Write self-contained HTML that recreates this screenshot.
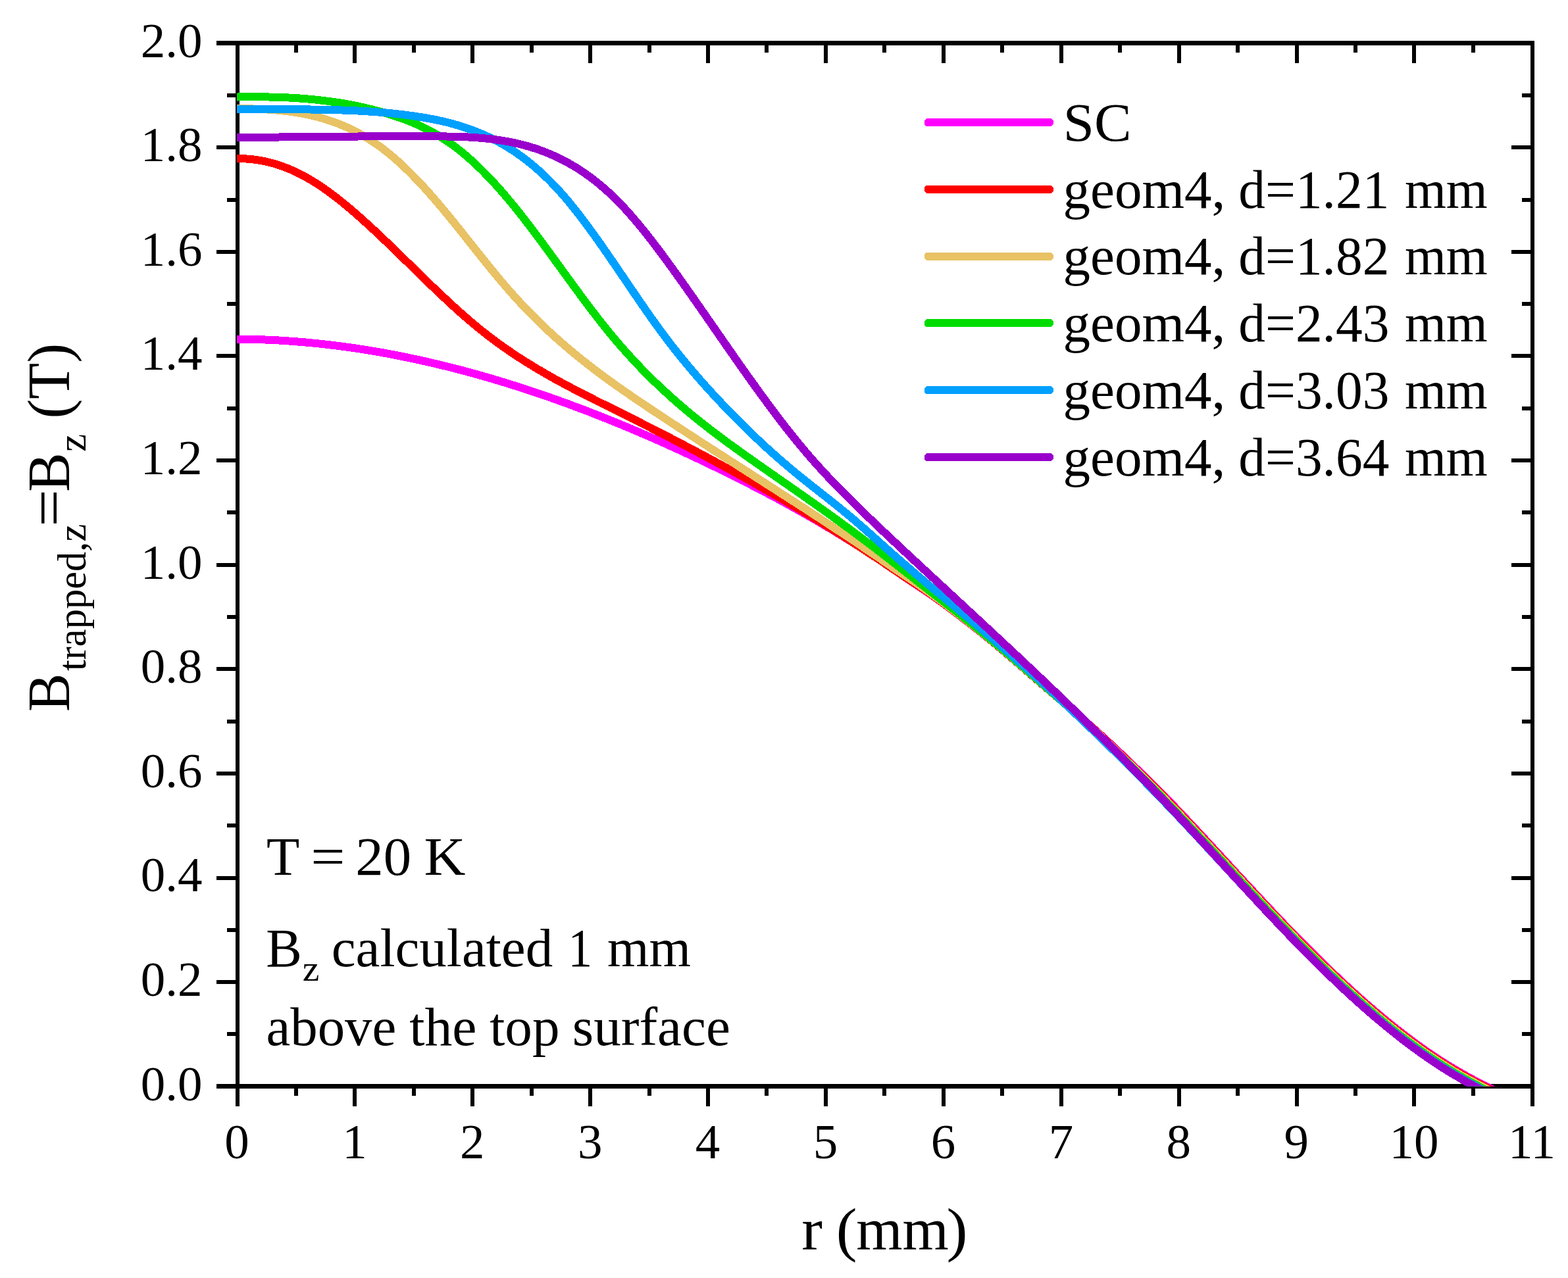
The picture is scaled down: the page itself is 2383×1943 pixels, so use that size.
<!DOCTYPE html>
<html lang="en"><head><meta charset="utf-8"><title>Trapped field profile</title>
<style>html,body{margin:0;padding:0;background:#fff;overflow:hidden;}svg{display:block;}text{font-family:"Liberation Serif","Times New Roman",serif;fill:#000;white-space:pre;}.tk{font-size:75px;}.lg{font-size:83.33px;}.an{font-size:83.33px;}.sb{font-size:55.6px;}.ti{font-size:91.67px;}.ts{font-size:61.1px;}</style></head><body>
<svg width="2383" height="1943" viewBox="0 0 2383 1943">
<rect width="2383" height="1943" fill="#fff"/>
<g fill="#000" shape-rendering="crispEdges">
<rect x="358.00" y="62.00" width="6.00" height="1620.00"/>
<rect x="2326.00" y="62.00" width="6.00" height="1620.00"/>
<rect x="329.00" y="62.00" width="2003.00" height="7.00"/>
<rect x="329.00" y="1648.00" width="2003.00" height="7.00"/>
<rect x="447.00" y="1655.00" width="6.00" height="11.00"/>
<rect x="447.00" y="69.00" width="6.00" height="11.00"/>
<rect x="536.00" y="1655.00" width="6.00" height="27.00"/>
<rect x="536.00" y="69.00" width="6.00" height="27.00"/>
<rect x="626.00" y="1655.00" width="6.00" height="11.00"/>
<rect x="626.00" y="69.00" width="6.00" height="11.00"/>
<rect x="715.00" y="1655.00" width="6.00" height="27.00"/>
<rect x="715.00" y="69.00" width="6.00" height="27.00"/>
<rect x="805.00" y="1655.00" width="6.00" height="11.00"/>
<rect x="805.00" y="69.00" width="6.00" height="11.00"/>
<rect x="894.00" y="1655.00" width="6.00" height="27.00"/>
<rect x="894.00" y="69.00" width="6.00" height="27.00"/>
<rect x="984.00" y="1655.00" width="6.00" height="11.00"/>
<rect x="984.00" y="69.00" width="6.00" height="11.00"/>
<rect x="1073.00" y="1655.00" width="6.00" height="27.00"/>
<rect x="1073.00" y="69.00" width="6.00" height="27.00"/>
<rect x="1162.00" y="1655.00" width="6.00" height="11.00"/>
<rect x="1162.00" y="69.00" width="6.00" height="11.00"/>
<rect x="1252.00" y="1655.00" width="6.00" height="27.00"/>
<rect x="1252.00" y="69.00" width="6.00" height="27.00"/>
<rect x="1341.00" y="1655.00" width="6.00" height="11.00"/>
<rect x="1341.00" y="69.00" width="6.00" height="11.00"/>
<rect x="1431.00" y="1655.00" width="6.00" height="27.00"/>
<rect x="1431.00" y="69.00" width="6.00" height="27.00"/>
<rect x="1520.00" y="1655.00" width="6.00" height="11.00"/>
<rect x="1520.00" y="69.00" width="6.00" height="11.00"/>
<rect x="1610.00" y="1655.00" width="6.00" height="27.00"/>
<rect x="1610.00" y="69.00" width="6.00" height="27.00"/>
<rect x="1699.00" y="1655.00" width="6.00" height="11.00"/>
<rect x="1699.00" y="69.00" width="6.00" height="11.00"/>
<rect x="1789.00" y="1655.00" width="6.00" height="27.00"/>
<rect x="1789.00" y="69.00" width="6.00" height="27.00"/>
<rect x="1878.00" y="1655.00" width="6.00" height="11.00"/>
<rect x="1878.00" y="69.00" width="6.00" height="11.00"/>
<rect x="1968.00" y="1655.00" width="6.00" height="27.00"/>
<rect x="1968.00" y="69.00" width="6.00" height="27.00"/>
<rect x="2057.00" y="1655.00" width="6.00" height="11.00"/>
<rect x="2057.00" y="69.00" width="6.00" height="11.00"/>
<rect x="2146.00" y="1655.00" width="6.00" height="27.00"/>
<rect x="2146.00" y="69.00" width="6.00" height="27.00"/>
<rect x="2236.00" y="1655.00" width="6.00" height="11.00"/>
<rect x="2236.00" y="69.00" width="6.00" height="11.00"/>
<rect x="345.00" y="1569.00" width="13.00" height="6.00"/>
<rect x="2313.00" y="1569.00" width="13.00" height="6.00"/>
<rect x="329.00" y="1490.00" width="29.00" height="6.00"/>
<rect x="2297.00" y="1490.00" width="29.00" height="6.00"/>
<rect x="345.00" y="1411.00" width="13.00" height="6.00"/>
<rect x="2313.00" y="1411.00" width="13.00" height="6.00"/>
<rect x="329.00" y="1332.00" width="29.00" height="6.00"/>
<rect x="2297.00" y="1332.00" width="29.00" height="6.00"/>
<rect x="345.00" y="1252.00" width="13.00" height="6.00"/>
<rect x="2313.00" y="1252.00" width="13.00" height="6.00"/>
<rect x="329.00" y="1173.00" width="29.00" height="6.00"/>
<rect x="2297.00" y="1173.00" width="29.00" height="6.00"/>
<rect x="345.00" y="1094.00" width="13.00" height="6.00"/>
<rect x="2313.00" y="1094.00" width="13.00" height="6.00"/>
<rect x="329.00" y="1014.00" width="29.00" height="6.00"/>
<rect x="2297.00" y="1014.00" width="29.00" height="6.00"/>
<rect x="345.00" y="935.00" width="13.00" height="6.00"/>
<rect x="2313.00" y="935.00" width="13.00" height="6.00"/>
<rect x="329.00" y="856.00" width="29.00" height="6.00"/>
<rect x="2297.00" y="856.00" width="29.00" height="6.00"/>
<rect x="345.00" y="776.00" width="13.00" height="6.00"/>
<rect x="2313.00" y="776.00" width="13.00" height="6.00"/>
<rect x="329.00" y="697.00" width="29.00" height="6.00"/>
<rect x="2297.00" y="697.00" width="29.00" height="6.00"/>
<rect x="345.00" y="618.00" width="13.00" height="6.00"/>
<rect x="2313.00" y="618.00" width="13.00" height="6.00"/>
<rect x="329.00" y="538.00" width="29.00" height="6.00"/>
<rect x="2297.00" y="538.00" width="29.00" height="6.00"/>
<rect x="345.00" y="459.00" width="13.00" height="6.00"/>
<rect x="2313.00" y="459.00" width="13.00" height="6.00"/>
<rect x="329.00" y="380.00" width="29.00" height="6.00"/>
<rect x="2297.00" y="380.00" width="29.00" height="6.00"/>
<rect x="345.00" y="301.00" width="13.00" height="6.00"/>
<rect x="2313.00" y="301.00" width="13.00" height="6.00"/>
<rect x="329.00" y="221.00" width="29.00" height="6.00"/>
<rect x="2297.00" y="221.00" width="29.00" height="6.00"/>
<rect x="345.00" y="142.00" width="13.00" height="6.00"/>
<rect x="2313.00" y="142.00" width="13.00" height="6.00"/>
</g>
<text class="tk" x="360.0" y="1760.6" text-anchor="middle">0</text>
<text class="tk" x="538.9" y="1760.6" text-anchor="middle">1</text>
<text class="tk" x="717.8" y="1760.6" text-anchor="middle">2</text>
<text class="tk" x="896.7" y="1760.6" text-anchor="middle">3</text>
<text class="tk" x="1075.6" y="1760.6" text-anchor="middle">4</text>
<text class="tk" x="1254.5" y="1760.6" text-anchor="middle">5</text>
<text class="tk" x="1433.5" y="1760.6" text-anchor="middle">6</text>
<text class="tk" x="1612.4" y="1760.6" text-anchor="middle">7</text>
<text class="tk" x="1791.3" y="1760.6" text-anchor="middle">8</text>
<text class="tk" x="1970.2" y="1760.6" text-anchor="middle">9</text>
<text class="tk" x="2149.1" y="1760.6" text-anchor="middle">10</text>
<text class="tk" x="2328.0" y="1760.6" text-anchor="middle">11</text>
<text class="tk" x="307.6" y="1672.5" text-anchor="end">0.0</text>
<text class="tk" x="307.6" y="1513.9" text-anchor="end">0.2</text>
<text class="tk" x="307.6" y="1355.3" text-anchor="end">0.4</text>
<text class="tk" x="307.6" y="1196.7" text-anchor="end">0.6</text>
<text class="tk" x="307.6" y="1038.1" text-anchor="end">0.8</text>
<text class="tk" x="307.6" y="879.5" text-anchor="end">1.0</text>
<text class="tk" x="307.6" y="720.9" text-anchor="end">1.2</text>
<text class="tk" x="307.6" y="562.3" text-anchor="end">1.4</text>
<text class="tk" x="307.6" y="403.7" text-anchor="end">1.6</text>
<text class="tk" x="307.6" y="245.1" text-anchor="end">1.8</text>
<text class="tk" x="307.6" y="86.5" text-anchor="end">2.0</text>
<defs><clipPath id="plot"><rect x="360" y="65.5" width="1969" height="1586"/></clipPath></defs>
<g clip-path="url(#plot)" fill="none" stroke-width="12.0" stroke-linejoin="round" stroke-linecap="butt" shape-rendering="crispEdges">
<path d="M358.0,515.6 L361.0,515.6 L364.0,515.6 L367.0,515.6 L370.0,515.7 L373.0,515.7 L376.0,515.7 L379.0,515.8 L382.0,515.9 L385.0,515.9 L388.0,516.0 L391.0,516.1 L394.0,516.2 L397.0,516.3 L400.0,516.4 L403.0,516.5 L406.0,516.6 L409.0,516.8 L412.0,516.9 L415.0,517.0 L418.0,517.2 L421.0,517.4 L424.0,517.5 L427.0,517.7 L430.0,517.9 L433.0,518.1 L436.0,518.3 L439.0,518.5 L442.0,518.7 L445.0,518.9 L448.0,519.1 L451.0,519.4 L454.0,519.6 L457.0,519.8 L460.0,520.1 L463.0,520.4 L466.0,520.6 L469.0,520.9 L472.0,521.2 L475.0,521.5 L478.0,521.8 L481.0,522.1 L484.0,522.4 L487.0,522.7 L490.0,523.0 L493.0,523.4 L496.0,523.7 L499.0,524.0 L502.0,524.4 L505.0,524.8 L508.0,525.1 L511.0,525.5 L514.0,525.9 L517.0,526.3 L520.0,526.7 L523.0,527.1 L526.0,527.5 L529.0,527.9 L532.0,528.3 L535.0,528.7 L538.0,529.2 L541.0,529.6 L544.0,530.1 L547.0,530.5 L550.0,531.0 L553.0,531.5 L556.0,531.9 L559.0,532.4 L562.0,532.9 L565.0,533.4 L568.0,533.9 L571.0,534.4 L574.0,535.0 L577.0,535.5 L580.0,536.0 L583.0,536.5 L586.0,537.1 L589.0,537.6 L592.0,538.2 L595.0,538.8 L598.0,539.3 L601.0,539.9 L604.0,540.5 L607.0,541.1 L610.0,541.7 L613.0,542.3 L616.0,542.9 L619.0,543.5 L622.0,544.1 L625.0,544.8 L628.0,545.4 L631.0,546.0 L634.0,546.7 L637.0,547.3 L640.0,548.0 L643.0,548.7 L646.0,549.3 L649.0,550.0 L652.0,550.7 L655.0,551.4 L658.0,552.1 L661.0,552.8 L664.0,553.5 L667.0,554.2 L670.0,555.0 L673.0,555.7 L676.0,556.4 L679.0,557.2 L682.0,557.9 L685.0,558.7 L688.0,559.4 L691.0,560.2 L694.0,561.0 L697.0,561.8 L700.0,562.5 L703.0,563.3 L706.0,564.1 L709.0,564.9 L712.0,565.7 L715.0,566.6 L718.0,567.4 L721.0,568.2 L724.0,569.0 L727.0,569.9 L730.0,570.7 L733.0,571.6 L736.0,572.4 L739.0,573.3 L742.0,574.2 L745.0,575.0 L748.0,575.9 L751.0,576.8 L754.0,577.7 L757.0,578.6 L760.0,579.5 L763.0,580.4 L766.0,581.3 L769.0,582.3 L772.0,583.2 L775.0,584.1 L778.0,585.1 L781.0,586.0 L784.0,587.0 L787.0,587.9 L790.0,588.9 L793.0,589.8 L796.0,590.8 L799.0,591.8 L802.0,592.8 L805.0,593.8 L808.0,594.8 L811.0,595.8 L814.0,596.8 L817.0,597.8 L820.0,598.8 L823.0,599.8 L826.0,600.9 L829.0,601.9 L832.0,602.9 L835.0,604.0 L838.0,605.0 L841.0,606.1 L844.0,607.2 L847.0,608.2 L850.0,609.3 L853.0,610.4 L856.0,611.5 L859.0,612.6 L862.0,613.6 L865.0,614.7 L868.0,615.9 L871.0,617.0 L874.0,618.1 L877.0,619.2 L880.0,620.3 L883.0,621.5 L886.0,622.6 L889.0,623.7 L892.0,624.9 L895.0,626.0 L898.0,627.2 L901.0,628.4 L904.0,629.5 L907.0,630.7 L910.0,631.9 L913.0,633.1 L916.0,634.3 L919.0,635.4 L922.0,636.6 L925.0,637.9 L928.0,639.1 L931.0,640.3 L934.0,641.5 L937.0,642.7 L940.0,643.9 L943.0,645.2 L946.0,646.4 L949.0,647.7 L952.0,648.9 L955.0,650.2 L958.0,651.4 L961.0,652.7 L964.0,654.0 L967.0,655.2 L970.0,656.5 L973.0,657.8 L976.0,659.1 L979.0,660.4 L982.0,661.7 L985.0,663.0 L988.0,664.3 L991.0,665.6 L994.0,666.9 L997.0,668.2 L1000.0,669.6 L1003.0,670.9 L1006.0,672.2 L1009.0,673.6 L1012.0,674.9 L1015.0,676.3 L1018.0,677.6 L1021.0,679.0 L1024.0,680.3 L1027.0,681.7 L1030.0,683.1 L1033.0,684.5 L1036.0,685.8 L1039.0,687.2 L1042.0,688.6 L1045.0,690.0 L1048.0,691.4 L1051.0,692.8 L1054.0,694.2 L1057.0,695.6 L1060.0,697.1 L1063.0,698.5 L1066.0,699.9 L1069.0,701.3 L1072.0,702.8 L1075.0,704.2 L1078.0,705.7 L1081.0,707.1 L1084.0,708.6 L1087.0,710.0 L1090.0,711.5 L1093.0,713.0 L1096.0,714.4 L1099.0,715.9 L1102.0,717.4 L1105.0,718.9 L1108.0,720.3 L1111.0,721.8 L1114.0,723.3 L1117.0,724.8 L1120.0,726.3 L1123.0,727.9 L1126.0,729.4 L1129.0,730.9 L1132.0,732.4 L1135.0,733.9 L1138.0,735.5 L1141.0,737.0 L1144.0,738.6 L1147.0,740.1 L1150.0,741.7 L1153.0,743.2 L1156.0,744.8 L1159.0,746.4 L1162.0,747.9 L1165.0,749.5 L1168.0,751.1 L1171.0,752.7 L1174.0,754.3 L1177.0,755.9 L1180.0,757.5 L1183.0,759.1 L1186.0,760.8 L1189.0,762.4 L1192.0,764.0 L1195.0,765.7 L1198.0,767.3 L1201.0,769.0 L1204.0,770.6 L1207.0,772.3 L1210.0,774.0 L1213.0,775.6 L1216.0,777.3 L1219.0,779.0 L1222.0,780.7 L1225.0,782.4 L1228.0,784.1 L1231.0,785.8 L1234.0,787.6 L1237.0,789.3 L1240.0,791.0 L1243.0,792.8 L1246.0,794.5 L1249.0,796.3 L1252.0,798.1 L1255.0,799.9 L1258.0,801.6 L1261.0,803.4 L1264.0,805.2 L1267.0,807.0 L1270.0,808.8 L1273.0,810.7 L1276.0,812.5 L1279.0,814.3 L1282.0,816.2 L1285.0,818.0 L1288.0,819.9 L1291.0,821.8 L1294.0,823.6 L1297.0,825.5 L1300.0,827.4 L1303.0,829.3 L1306.0,831.2 L1309.0,833.1 L1312.0,835.1 L1315.0,837.0 L1318.0,839.0 L1321.0,840.9 L1324.0,842.9 L1327.0,844.8 L1330.0,846.8 L1333.0,848.8 L1336.0,850.8 L1339.0,852.8 L1342.0,854.8 L1345.0,856.8 L1348.0,858.9 L1351.0,860.9 L1354.0,863.0 L1357.0,865.0 L1360.0,867.1 L1363.0,869.2 L1366.0,871.2 L1369.0,873.3 L1372.0,875.3 L1375.0,877.3 L1378.0,879.4 L1381.0,881.4 L1384.0,883.3 L1387.0,885.3 L1390.0,887.3 L1393.0,889.3 L1396.0,891.3 L1399.0,893.3 L1402.0,895.3 L1405.0,897.3 L1408.0,899.4 L1411.0,901.4 L1414.0,903.5 L1417.0,905.6 L1420.0,907.7 L1423.0,909.8 L1426.0,912.0 L1429.0,914.1 L1432.0,916.3 L1435.0,918.5 L1438.0,920.8 L1441.0,923.0 L1444.0,925.2 L1447.0,927.5 L1450.0,929.7 L1453.0,932.0 L1456.0,934.3 L1459.0,936.6 L1462.0,938.9 L1465.0,941.2 L1468.0,943.5 L1471.0,945.8 L1474.0,948.2 L1477.0,950.5 L1480.0,952.9 L1483.0,955.2 L1486.0,957.6 L1489.0,960.0 L1492.0,962.4 L1495.0,964.8 L1498.0,967.3 L1501.0,969.7 L1504.0,972.2 L1507.0,974.6 L1510.0,977.1 L1513.0,979.6 L1516.0,982.1 L1519.0,984.6 L1522.0,987.2 L1525.0,989.7 L1528.0,992.3 L1531.0,994.8 L1534.0,997.4 L1537.0,999.9 L1540.0,1002.5 L1543.0,1005.1 L1546.0,1007.7 L1549.0,1010.3 L1552.0,1012.9 L1555.0,1015.5 L1558.0,1018.1 L1561.0,1020.7 L1564.0,1023.3 L1567.0,1025.9 L1570.0,1028.5 L1573.0,1031.1 L1576.0,1033.7 L1579.0,1036.3 L1582.0,1038.9 L1585.0,1041.5 L1588.0,1044.1 L1591.0,1046.6 L1594.0,1049.2 L1597.0,1051.8 L1600.0,1054.4 L1603.0,1056.9 L1606.0,1059.5 L1609.0,1062.0 L1612.0,1064.5 L1615.0,1067.0 L1618.0,1069.6 L1621.0,1072.1 L1624.0,1074.6 L1627.0,1077.1 L1630.0,1079.6 L1633.0,1082.2 L1636.0,1084.7 L1639.0,1087.3 L1642.0,1089.9 L1645.0,1092.5 L1648.0,1095.1 L1651.0,1097.8 L1654.0,1100.4 L1657.0,1103.1 L1660.0,1105.8 L1663.0,1108.5 L1666.0,1111.2 L1669.0,1113.9 L1672.0,1116.6 L1675.0,1119.3 L1678.0,1122.1 L1681.0,1124.8 L1684.0,1127.6 L1687.0,1130.4 L1690.0,1133.2 L1693.0,1136.0 L1696.0,1138.8 L1699.0,1141.7 L1702.0,1144.5 L1705.0,1147.3 L1708.0,1150.2 L1711.0,1153.1 L1714.0,1155.9 L1717.0,1158.8 L1720.0,1161.7 L1723.0,1164.6 L1726.0,1167.5 L1729.0,1170.4 L1732.0,1173.3 L1735.0,1176.2 L1738.0,1179.1 L1741.0,1182.1 L1744.0,1185.0 L1747.0,1188.0 L1750.0,1191.0 L1753.0,1193.9 L1756.0,1196.9 L1759.0,1199.9 L1762.0,1202.9 L1765.0,1206.0 L1768.0,1209.0 L1771.0,1212.0 L1774.0,1215.1 L1777.0,1218.2 L1780.0,1221.3 L1783.0,1224.4 L1786.0,1227.5 L1789.0,1230.6 L1792.0,1233.7 L1795.0,1236.9 L1798.0,1240.1 L1801.0,1243.3 L1804.0,1246.5 L1807.0,1249.7 L1810.0,1252.9 L1813.0,1256.1 L1816.0,1259.3 L1819.0,1262.5 L1822.0,1265.7 L1825.0,1269.0 L1828.0,1272.2 L1831.0,1275.4 L1834.0,1278.7 L1837.0,1281.9 L1840.0,1285.2 L1843.0,1288.4 L1846.0,1291.7 L1849.0,1294.9 L1852.0,1298.2 L1855.0,1301.4 L1858.0,1304.7 L1861.0,1307.9 L1864.0,1311.2 L1867.0,1314.4 L1870.0,1317.7 L1873.0,1321.0 L1876.0,1324.2 L1879.0,1327.5 L1882.0,1330.7 L1885.0,1334.0 L1888.0,1337.2 L1891.0,1340.5 L1894.0,1343.7 L1897.0,1346.9 L1900.0,1350.2 L1903.0,1353.4 L1906.0,1356.6 L1909.0,1359.9 L1912.0,1363.1 L1915.0,1366.3 L1918.0,1369.5 L1921.0,1372.7 L1924.0,1375.9 L1927.0,1379.1 L1930.0,1382.3 L1933.0,1385.5 L1936.0,1388.7 L1939.0,1391.8 L1942.0,1395.0 L1945.0,1398.2 L1948.0,1401.3 L1951.0,1404.5 L1954.0,1407.6 L1957.0,1410.7 L1960.0,1413.8 L1963.0,1416.9 L1966.0,1420.0 L1969.0,1423.1 L1972.0,1426.2 L1975.0,1429.2 L1978.0,1432.3 L1981.0,1435.3 L1984.0,1438.4 L1987.0,1441.4 L1990.0,1444.4 L1993.0,1447.4 L1996.0,1450.4 L1999.0,1453.4 L2002.0,1456.4 L2005.0,1459.3 L2008.0,1462.3 L2011.0,1465.2 L2014.0,1468.1 L2017.0,1471.0 L2020.0,1473.9 L2023.0,1476.8 L2026.0,1479.7 L2029.0,1482.5 L2032.0,1485.4 L2035.0,1488.2 L2038.0,1491.0 L2041.0,1493.8 L2044.0,1496.6 L2047.0,1499.4 L2050.0,1502.2 L2053.0,1504.9 L2056.0,1507.7 L2059.0,1510.4 L2062.0,1513.1 L2065.0,1515.8 L2068.0,1518.5 L2071.0,1521.1 L2074.0,1523.8 L2077.0,1526.4 L2080.0,1529.0 L2083.0,1531.6 L2086.0,1534.2 L2089.0,1536.8 L2092.0,1539.3 L2095.0,1541.8 L2098.0,1544.4 L2101.0,1546.9 L2104.0,1549.3 L2107.0,1551.8 L2110.0,1554.3 L2113.0,1556.7 L2116.0,1559.1 L2119.0,1561.5 L2122.0,1563.9 L2125.0,1566.3 L2128.0,1568.6 L2131.0,1570.9 L2134.0,1573.2 L2137.0,1575.5 L2140.0,1577.8 L2143.0,1580.0 L2146.0,1582.3 L2149.0,1584.5 L2152.0,1586.7 L2155.0,1588.9 L2158.0,1591.0 L2161.0,1593.2 L2164.0,1595.3 L2167.0,1597.4 L2170.0,1599.4 L2173.0,1601.5 L2176.0,1603.5 L2179.0,1605.6 L2182.0,1607.5 L2185.0,1609.5 L2188.0,1611.5 L2191.0,1613.4 L2194.0,1615.3 L2197.0,1617.2 L2200.0,1619.1 L2203.0,1620.9 L2206.0,1622.7 L2209.0,1624.5 L2212.0,1626.3 L2215.0,1628.1 L2218.0,1629.8 L2221.0,1631.5 L2224.0,1633.2 L2227.0,1634.9 L2230.0,1636.6 L2233.0,1638.2 L2236.0,1639.9 L2239.0,1641.5 L2242.0,1643.1 L2245.0,1644.6 L2248.0,1646.2 L2251.0,1647.7 L2254.0,1649.3 L2257.0,1650.8 L2260.0,1652.3 L2263.0,1653.8 L2266.0,1655.3 L2269.0,1656.7 L2272.0,1658.2 L2275.0,1659.6 L2278.0,1661.0 L2281.0,1662.4 L2284.0,1663.8 L2287.0,1665.2 L2290.0,1666.6" stroke="#ff00ff"/>
<path d="M358.0,241.3 L361.0,241.2 L364.0,241.2 L367.0,241.2 L370.0,241.3 L373.0,241.4 L376.0,241.6 L379.0,241.8 L382.0,242.1 L385.0,242.4 L388.0,242.8 L391.0,243.2 L394.0,243.7 L397.0,244.2 L400.0,244.8 L403.0,245.4 L406.0,246.1 L409.0,246.8 L412.0,247.6 L415.0,248.4 L418.0,249.2 L421.0,250.2 L424.0,251.1 L427.0,252.2 L430.0,253.2 L433.0,254.4 L436.0,255.5 L439.0,256.7 L442.0,258.0 L445.0,259.3 L448.0,260.7 L451.0,262.1 L454.0,263.6 L457.0,265.1 L460.0,266.7 L463.0,268.3 L466.0,269.9 L469.0,271.6 L472.0,273.4 L475.0,275.2 L478.0,277.0 L481.0,278.9 L484.0,280.9 L487.0,282.9 L490.0,284.9 L493.0,287.0 L496.0,289.1 L499.0,291.3 L502.0,293.5 L505.0,295.7 L508.0,298.0 L511.0,300.3 L514.0,302.6 L517.0,305.0 L520.0,307.4 L523.0,309.9 L526.0,312.3 L529.0,314.8 L532.0,317.4 L535.0,319.9 L538.0,322.5 L541.0,325.1 L544.0,327.7 L547.0,330.4 L550.0,333.1 L553.0,335.8 L556.0,338.5 L559.0,341.2 L562.0,344.0 L565.0,346.7 L568.0,349.5 L571.0,352.3 L574.0,355.1 L577.0,357.9 L580.0,360.8 L583.0,363.6 L586.0,366.5 L589.0,369.4 L592.0,372.3 L595.0,375.1 L598.0,378.0 L601.0,381.0 L604.0,383.9 L607.0,386.8 L610.0,389.7 L613.0,392.6 L616.0,395.6 L619.0,398.5 L622.0,401.4 L625.0,404.4 L628.0,407.3 L631.0,410.2 L634.0,413.2 L637.0,416.1 L640.0,419.0 L643.0,421.9 L646.0,424.9 L649.0,427.8 L652.0,430.7 L655.0,433.6 L658.0,436.5 L661.0,439.3 L664.0,442.2 L667.0,445.1 L670.0,447.9 L673.0,450.7 L676.0,453.5 L679.0,456.3 L682.0,459.1 L685.0,461.9 L688.0,464.7 L691.0,467.4 L694.0,470.1 L697.0,472.8 L700.0,475.5 L703.0,478.2 L706.0,480.8 L709.0,483.4 L712.0,486.0 L715.0,488.6 L718.0,491.1 L721.0,493.6 L724.0,496.1 L727.0,498.6 L730.0,501.0 L733.0,503.4 L736.0,505.8 L739.0,508.1 L742.0,510.4 L745.0,512.7 L748.0,515.0 L751.0,517.2 L754.0,519.5 L757.0,521.7 L760.0,523.8 L763.0,526.0 L766.0,528.1 L769.0,530.2 L772.0,532.3 L775.0,534.3 L778.0,536.4 L781.0,538.4 L784.0,540.4 L787.0,542.4 L790.0,544.3 L793.0,546.2 L796.0,548.2 L799.0,550.1 L802.0,551.9 L805.0,553.8 L808.0,555.6 L811.0,557.5 L814.0,559.3 L817.0,561.1 L820.0,562.8 L823.0,564.6 L826.0,566.4 L829.0,568.1 L832.0,569.8 L835.0,571.5 L838.0,573.2 L841.0,574.9 L844.0,576.6 L847.0,578.2 L850.0,579.9 L853.0,581.5 L856.0,583.1 L859.0,584.7 L862.0,586.3 L865.0,587.9 L868.0,589.5 L871.0,591.1 L874.0,592.6 L877.0,594.2 L880.0,595.8 L883.0,597.3 L886.0,598.8 L889.0,600.4 L892.0,601.9 L895.0,603.4 L898.0,604.9 L901.0,606.4 L904.0,608.0 L907.0,609.5 L910.0,611.0 L913.0,612.5 L916.0,614.0 L919.0,615.4 L922.0,616.9 L925.0,618.4 L928.0,619.9 L931.0,621.4 L934.0,622.9 L937.0,624.4 L940.0,625.9 L943.0,627.4 L946.0,628.9 L949.0,630.4 L952.0,631.9 L955.0,633.4 L958.0,634.9 L961.0,636.4 L964.0,637.9 L967.0,639.4 L970.0,640.9 L973.0,642.4 L976.0,644.0 L979.0,645.5 L982.0,647.0 L985.0,648.5 L988.0,650.0 L991.0,651.6 L994.0,653.1 L997.0,654.6 L1000.0,656.2 L1003.0,657.7 L1006.0,659.3 L1009.0,660.8 L1012.0,662.3 L1015.0,663.9 L1018.0,665.4 L1021.0,667.0 L1024.0,668.6 L1027.0,670.1 L1030.0,671.7 L1033.0,673.2 L1036.0,674.8 L1039.0,676.4 L1042.0,678.0 L1045.0,679.5 L1048.0,681.1 L1051.0,682.7 L1054.0,684.3 L1057.0,685.9 L1060.0,687.5 L1063.0,689.1 L1066.0,690.7 L1069.0,692.3 L1072.0,693.9 L1075.0,695.5 L1078.0,697.1 L1081.0,698.7 L1084.0,700.3 L1087.0,701.9 L1090.0,703.6 L1093.0,705.2 L1096.0,706.8 L1099.0,708.5 L1102.0,710.1 L1105.0,711.7 L1108.0,713.4 L1111.0,715.0 L1114.0,716.7 L1117.0,718.3 L1120.0,720.0 L1123.0,721.7 L1126.0,723.3 L1129.0,725.0 L1132.0,726.7 L1135.0,728.4 L1138.0,730.0 L1141.0,731.7 L1144.0,733.4 L1147.0,735.1 L1150.0,736.8 L1153.0,738.5 L1156.0,740.2 L1159.0,741.9 L1162.0,743.6 L1165.0,745.4 L1168.0,747.1 L1171.0,748.8 L1174.0,750.5 L1177.0,752.3 L1180.0,754.0 L1183.0,755.8 L1186.0,757.5 L1189.0,759.3 L1192.0,761.0 L1195.0,762.8 L1198.0,764.5 L1201.0,766.3 L1204.0,768.1 L1207.0,769.9 L1210.0,771.6 L1213.0,773.4 L1216.0,775.2 L1219.0,777.0 L1222.0,778.8 L1225.0,780.6 L1228.0,782.4 L1231.0,784.2 L1234.0,786.1 L1237.0,787.9 L1240.0,789.7 L1243.0,791.5 L1246.0,793.4 L1249.0,795.2 L1252.0,797.1 L1255.0,798.9 L1258.0,800.8 L1261.0,802.7 L1264.0,804.5 L1267.0,806.4 L1270.0,808.3 L1273.0,810.2 L1276.0,812.0 L1279.0,813.9 L1282.0,815.8 L1285.0,817.7 L1288.0,819.6 L1291.0,821.6 L1294.0,823.5 L1297.0,825.4 L1300.0,827.3 L1303.0,829.3 L1306.0,831.2 L1309.0,833.2 L1312.0,835.1 L1315.0,837.1 L1318.0,839.0 L1321.0,841.0 L1324.0,843.0 L1327.0,845.0 L1330.0,846.9 L1333.0,848.9 L1336.0,850.9 L1339.0,852.9 L1342.0,854.9 L1345.0,857.0 L1348.0,859.0 L1351.0,861.0 L1354.0,863.0 L1357.0,865.1 L1360.0,867.1 L1363.0,869.1 L1366.0,871.2 L1369.0,873.2 L1372.0,875.2 L1375.0,877.2 L1378.0,879.1 L1381.0,881.1 L1384.0,883.0 L1387.0,885.0 L1390.0,886.9 L1393.0,888.9 L1396.0,890.9 L1399.0,892.8 L1402.0,894.9 L1405.0,896.9 L1408.0,898.9 L1411.0,901.0 L1414.0,903.1 L1417.0,905.2 L1420.0,907.3 L1423.0,909.4 L1426.0,911.6 L1429.0,913.8 L1432.0,916.0 L1435.0,918.2 L1438.0,920.4 L1441.0,922.6 L1444.0,924.9 L1447.0,927.1 L1450.0,929.4 L1453.0,931.7 L1456.0,934.0 L1459.0,936.3 L1462.0,938.6 L1465.0,940.9 L1468.0,943.2 L1471.0,945.5 L1474.0,947.9 L1477.0,950.2 L1480.0,952.6 L1483.0,955.0 L1486.0,957.4 L1489.0,959.8 L1492.0,962.2 L1495.0,964.6 L1498.0,967.1 L1501.0,969.5 L1504.0,972.0 L1507.0,974.5 L1510.0,976.9 L1513.0,979.4 L1516.0,982.0 L1519.0,984.5 L1522.0,987.0 L1525.0,989.6 L1528.0,992.1 L1531.0,994.7 L1534.0,997.2 L1537.0,999.8 L1540.0,1002.4 L1543.0,1005.0 L1546.0,1007.6 L1549.0,1010.1 L1552.0,1012.7 L1555.0,1015.3 L1558.0,1018.0 L1561.0,1020.6 L1564.0,1023.2 L1567.0,1025.8 L1570.0,1028.4 L1573.0,1031.0 L1576.0,1033.6 L1579.0,1036.2 L1582.0,1038.8 L1585.0,1041.4 L1588.0,1044.0 L1591.0,1046.6 L1594.0,1049.2 L1597.0,1051.8 L1600.0,1054.4 L1603.0,1056.9 L1606.0,1059.5 L1609.0,1062.0 L1612.0,1064.6 L1615.0,1067.1 L1618.0,1069.6 L1621.0,1072.2 L1624.0,1074.7 L1627.0,1077.2 L1630.0,1079.8 L1633.0,1082.3 L1636.0,1084.9 L1639.0,1087.5 L1642.0,1090.1 L1645.0,1092.7 L1648.0,1095.4 L1651.0,1098.1 L1654.0,1100.8 L1657.0,1103.5 L1660.0,1106.2 L1663.0,1109.0 L1666.0,1111.7 L1669.0,1114.5 L1672.0,1117.2 L1675.0,1120.0 L1678.0,1122.8 L1681.0,1125.6 L1684.0,1128.4 L1687.0,1131.3 L1690.0,1134.1 L1693.0,1136.9 L1696.0,1139.8 L1699.0,1142.6 L1702.0,1145.5 L1705.0,1148.4 L1708.0,1151.3 L1711.0,1154.2 L1714.0,1157.1 L1717.0,1159.9 L1720.0,1162.9 L1723.0,1165.8 L1726.0,1168.7 L1729.0,1171.6 L1732.0,1174.5 L1735.0,1177.5 L1738.0,1180.4 L1741.0,1183.4 L1744.0,1186.4 L1747.0,1189.3 L1750.0,1192.3 L1753.0,1195.3 L1756.0,1198.3 L1759.0,1201.3 L1762.0,1204.4 L1765.0,1207.4 L1768.0,1210.4 L1771.0,1213.5 L1774.0,1216.6 L1777.0,1219.7 L1780.0,1222.7 L1783.0,1225.9 L1786.0,1229.0 L1789.0,1232.1 L1792.0,1235.3 L1795.0,1238.4 L1798.0,1241.6 L1801.0,1244.8 L1804.0,1248.0 L1807.0,1251.1 L1810.0,1254.3 L1813.0,1257.6 L1816.0,1260.8 L1819.0,1264.0 L1822.0,1267.2 L1825.0,1270.4 L1828.0,1273.7 L1831.0,1276.9 L1834.0,1280.1 L1837.0,1283.4 L1840.0,1286.6 L1843.0,1289.8 L1846.0,1293.1 L1849.0,1296.3 L1852.0,1299.6 L1855.0,1302.8 L1858.0,1306.1 L1861.0,1309.3 L1864.0,1312.6 L1867.0,1315.8 L1870.0,1319.1 L1873.0,1322.3 L1876.0,1325.6 L1879.0,1328.9 L1882.0,1332.1 L1885.0,1335.4 L1888.0,1338.6 L1891.0,1341.9 L1894.0,1345.1 L1897.0,1348.3 L1900.0,1351.6 L1903.0,1354.8 L1906.0,1358.1 L1909.0,1361.3 L1912.0,1364.5 L1915.0,1367.7 L1918.0,1370.9 L1921.0,1374.2 L1924.0,1377.4 L1927.0,1380.6 L1930.0,1383.8 L1933.0,1386.9 L1936.0,1390.1 L1939.0,1393.3 L1942.0,1396.5 L1945.0,1399.6 L1948.0,1402.8 L1951.0,1405.9 L1954.0,1409.0 L1957.0,1412.2 L1960.0,1415.3 L1963.0,1418.4 L1966.0,1421.5 L1969.0,1424.6 L1972.0,1427.7 L1975.0,1430.7 L1978.0,1433.8 L1981.0,1436.8 L1984.0,1439.9 L1987.0,1442.9 L1990.0,1445.9 L1993.0,1448.9 L1996.0,1451.9 L1999.0,1454.9 L2002.0,1457.9 L2005.0,1460.8 L2008.0,1463.8 L2011.0,1466.7 L2014.0,1469.6 L2017.0,1472.5 L2020.0,1475.4 L2023.0,1478.3 L2026.0,1481.2 L2029.0,1484.0 L2032.0,1486.9 L2035.0,1489.7 L2038.0,1492.5 L2041.0,1495.4 L2044.0,1498.1 L2047.0,1500.9 L2050.0,1503.7 L2053.0,1506.4 L2056.0,1509.2 L2059.0,1511.9 L2062.0,1514.6 L2065.0,1517.3 L2068.0,1520.0 L2071.0,1522.6 L2074.0,1525.3 L2077.0,1527.9 L2080.0,1530.5 L2083.0,1533.1 L2086.0,1535.7 L2089.0,1538.3 L2092.0,1540.8 L2095.0,1543.4 L2098.0,1545.9 L2101.0,1548.4 L2104.0,1550.9 L2107.0,1553.3 L2110.0,1555.8 L2113.0,1558.2 L2116.0,1560.6 L2119.0,1563.0 L2122.0,1565.4 L2125.0,1567.8 L2128.0,1570.1 L2131.0,1572.4 L2134.0,1574.8 L2137.0,1577.0 L2140.0,1579.3 L2143.0,1581.6 L2146.0,1583.8 L2149.0,1586.0 L2152.0,1588.2 L2155.0,1590.4 L2158.0,1592.5 L2161.0,1594.7 L2164.0,1596.8 L2167.0,1598.9 L2170.0,1601.0 L2173.0,1603.0 L2176.0,1605.1 L2179.0,1607.1 L2182.0,1609.1 L2185.0,1611.0 L2188.0,1613.0 L2191.0,1614.9 L2194.0,1616.8 L2197.0,1618.7 L2200.0,1620.6 L2203.0,1622.4 L2206.0,1624.3 L2209.0,1626.1 L2212.0,1627.8 L2215.0,1629.6 L2218.0,1631.3 L2221.0,1633.1 L2224.0,1634.8 L2227.0,1636.4 L2230.0,1638.1 L2233.0,1639.7 L2236.0,1641.4 L2239.0,1643.0 L2242.0,1644.6 L2245.0,1646.2 L2248.0,1647.7 L2251.0,1649.3 L2254.0,1650.8 L2257.0,1652.3 L2260.0,1653.8 L2263.0,1655.3 L2266.0,1656.8 L2269.0,1658.2 L2272.0,1659.7 L2275.0,1661.1 L2278.0,1662.5 L2281.0,1663.9 L2284.0,1665.3 L2287.0,1666.7 L2290.0,1668.1" stroke="#ff0000"/>
<path d="M358.0,165.2 L361.0,165.1 L364.0,165.1 L367.0,165.1 L370.0,165.2 L373.0,165.2 L376.0,165.2 L379.0,165.3 L382.0,165.4 L385.0,165.5 L388.0,165.6 L391.0,165.7 L394.0,165.8 L397.0,166.0 L400.0,166.1 L403.0,166.3 L406.0,166.5 L409.0,166.6 L412.0,166.9 L415.0,167.1 L418.0,167.3 L421.0,167.6 L424.0,167.9 L427.0,168.1 L430.0,168.5 L433.0,168.8 L436.0,169.1 L439.0,169.5 L442.0,169.9 L445.0,170.3 L448.0,170.8 L451.0,171.3 L454.0,171.7 L457.0,172.3 L460.0,172.8 L463.0,173.4 L466.0,174.0 L469.0,174.6 L472.0,175.3 L475.0,176.0 L478.0,176.7 L481.0,177.4 L484.0,178.2 L487.0,179.1 L490.0,179.9 L493.0,180.8 L496.0,181.7 L499.0,182.7 L502.0,183.7 L505.0,184.7 L508.0,185.8 L511.0,186.9 L514.0,188.0 L517.0,189.2 L520.0,190.5 L523.0,191.7 L526.0,193.0 L529.0,194.4 L532.0,195.8 L535.0,197.3 L538.0,198.7 L541.0,200.3 L544.0,201.9 L547.0,203.5 L550.0,205.2 L553.0,206.9 L556.0,208.7 L559.0,210.5 L562.0,212.4 L565.0,214.4 L568.0,216.3 L571.0,218.4 L574.0,220.5 L577.0,222.6 L580.0,224.8 L583.0,227.1 L586.0,229.4 L589.0,231.8 L592.0,234.2 L595.0,236.7 L598.0,239.3 L601.0,241.9 L604.0,244.5 L607.0,247.2 L610.0,250.0 L613.0,252.8 L616.0,255.6 L619.0,258.5 L622.0,261.5 L625.0,264.5 L628.0,267.5 L631.0,270.6 L634.0,273.7 L637.0,276.9 L640.0,280.1 L643.0,283.3 L646.0,286.6 L649.0,289.9 L652.0,293.3 L655.0,296.7 L658.0,300.1 L661.0,303.6 L664.0,307.1 L667.0,310.6 L670.0,314.1 L673.0,317.7 L676.0,321.3 L679.0,325.0 L682.0,328.6 L685.0,332.3 L688.0,336.0 L691.0,339.7 L694.0,343.5 L697.0,347.2 L700.0,351.0 L703.0,354.7 L706.0,358.5 L709.0,362.3 L712.0,366.0 L715.0,369.8 L718.0,373.6 L721.0,377.4 L724.0,381.2 L727.0,384.9 L730.0,388.7 L733.0,392.4 L736.0,396.2 L739.0,399.9 L742.0,403.6 L745.0,407.3 L748.0,411.0 L751.0,414.6 L754.0,418.3 L757.0,421.9 L760.0,425.5 L763.0,429.0 L766.0,432.5 L769.0,436.0 L772.0,439.5 L775.0,442.9 L778.0,446.3 L781.0,449.7 L784.0,453.0 L787.0,456.3 L790.0,459.5 L793.0,462.7 L796.0,465.9 L799.0,469.1 L802.0,472.2 L805.0,475.3 L808.0,478.3 L811.0,481.3 L814.0,484.3 L817.0,487.3 L820.0,490.2 L823.0,493.1 L826.0,496.0 L829.0,498.8 L832.0,501.7 L835.0,504.5 L838.0,507.2 L841.0,510.0 L844.0,512.7 L847.0,515.4 L850.0,518.0 L853.0,520.7 L856.0,523.3 L859.0,525.9 L862.0,528.4 L865.0,531.0 L868.0,533.5 L871.0,536.0 L874.0,538.5 L877.0,540.9 L880.0,543.4 L883.0,545.8 L886.0,548.2 L889.0,550.5 L892.0,552.9 L895.0,555.2 L898.0,557.6 L901.0,559.9 L904.0,562.2 L907.0,564.4 L910.0,566.7 L913.0,568.9 L916.0,571.2 L919.0,573.4 L922.0,575.6 L925.0,577.7 L928.0,579.9 L931.0,582.1 L934.0,584.2 L937.0,586.4 L940.0,588.5 L943.0,590.6 L946.0,592.7 L949.0,594.8 L952.0,596.9 L955.0,598.9 L958.0,601.0 L961.0,603.1 L964.0,605.1 L967.0,607.1 L970.0,609.2 L973.0,611.2 L976.0,613.2 L979.0,615.2 L982.0,617.3 L985.0,619.3 L988.0,621.3 L991.0,623.3 L994.0,625.3 L997.0,627.3 L1000.0,629.2 L1003.0,631.2 L1006.0,633.2 L1009.0,635.2 L1012.0,637.2 L1015.0,639.2 L1018.0,641.1 L1021.0,643.1 L1024.0,645.1 L1027.0,647.0 L1030.0,649.0 L1033.0,651.0 L1036.0,652.9 L1039.0,654.9 L1042.0,656.8 L1045.0,658.8 L1048.0,660.7 L1051.0,662.7 L1054.0,664.6 L1057.0,666.6 L1060.0,668.5 L1063.0,670.5 L1066.0,672.4 L1069.0,674.4 L1072.0,676.3 L1075.0,678.2 L1078.0,680.2 L1081.0,682.1 L1084.0,684.0 L1087.0,686.0 L1090.0,687.9 L1093.0,689.8 L1096.0,691.7 L1099.0,693.7 L1102.0,695.6 L1105.0,697.5 L1108.0,699.4 L1111.0,701.4 L1114.0,703.3 L1117.0,705.2 L1120.0,707.1 L1123.0,709.1 L1126.0,711.0 L1129.0,712.9 L1132.0,714.8 L1135.0,716.7 L1138.0,718.7 L1141.0,720.6 L1144.0,722.5 L1147.0,724.4 L1150.0,726.3 L1153.0,728.3 L1156.0,730.2 L1159.0,732.1 L1162.0,734.0 L1165.0,736.0 L1168.0,737.9 L1171.0,739.8 L1174.0,741.7 L1177.0,743.6 L1180.0,745.6 L1183.0,747.5 L1186.0,749.4 L1189.0,751.4 L1192.0,753.3 L1195.0,755.2 L1198.0,757.1 L1201.0,759.1 L1204.0,761.0 L1207.0,762.9 L1210.0,764.9 L1213.0,766.8 L1216.0,768.8 L1219.0,770.7 L1222.0,772.6 L1225.0,774.6 L1228.0,776.5 L1231.0,778.5 L1234.0,780.4 L1237.0,782.4 L1240.0,784.3 L1243.0,786.3 L1246.0,788.2 L1249.0,790.2 L1252.0,792.2 L1255.0,794.1 L1258.0,796.1 L1261.0,798.1 L1264.0,800.0 L1267.0,802.0 L1270.0,804.0 L1273.0,806.0 L1276.0,807.9 L1279.0,809.9 L1282.0,811.9 L1285.0,813.9 L1288.0,815.9 L1291.0,817.9 L1294.0,819.9 L1297.0,821.9 L1300.0,823.9 L1303.0,825.9 L1306.0,827.9 L1309.0,829.9 L1312.0,832.0 L1315.0,834.0 L1318.0,836.0 L1321.0,838.0 L1324.0,840.1 L1327.0,842.1 L1330.0,844.2 L1333.0,846.2 L1336.0,848.2 L1339.0,850.3 L1342.0,852.4 L1345.0,854.4 L1348.0,856.5 L1351.0,858.6 L1354.0,860.6 L1357.0,862.7 L1360.0,864.7 L1363.0,866.7 L1366.0,868.7 L1369.0,870.7 L1372.0,872.7 L1375.0,874.7 L1378.0,876.7 L1381.0,878.7 L1384.0,880.7 L1387.0,882.8 L1390.0,884.8 L1393.0,886.9 L1396.0,888.9 L1399.0,891.0 L1402.0,893.2 L1405.0,895.3 L1408.0,897.4 L1411.0,899.6 L1414.0,901.8 L1417.0,903.9 L1420.0,906.1 L1423.0,908.4 L1426.0,910.6 L1429.0,912.8 L1432.0,915.1 L1435.0,917.3 L1438.0,919.6 L1441.0,921.9 L1444.0,924.2 L1447.0,926.4 L1450.0,928.7 L1453.0,931.0 L1456.0,933.3 L1459.0,935.6 L1462.0,937.9 L1465.0,940.3 L1468.0,942.6 L1471.0,945.0 L1474.0,947.3 L1477.0,949.7 L1480.0,952.0 L1483.0,954.4 L1486.0,956.8 L1489.0,959.2 L1492.0,961.7 L1495.0,964.1 L1498.0,966.6 L1501.0,969.0 L1504.0,971.5 L1507.0,974.0 L1510.0,976.5 L1513.0,979.0 L1516.0,981.5 L1519.0,984.1 L1522.0,986.6 L1525.0,989.1 L1528.0,991.7 L1531.0,994.3 L1534.0,996.8 L1537.0,999.4 L1540.0,1002.0 L1543.0,1004.6 L1546.0,1007.2 L1549.0,1009.8 L1552.0,1012.4 L1555.0,1015.0 L1558.0,1017.6 L1561.0,1020.2 L1564.0,1022.8 L1567.0,1025.4 L1570.0,1028.0 L1573.0,1030.7 L1576.0,1033.3 L1579.0,1035.9 L1582.0,1038.5 L1585.0,1041.1 L1588.0,1043.7 L1591.0,1046.4 L1594.0,1049.0 L1597.0,1051.6 L1600.0,1054.2 L1603.0,1056.8 L1606.0,1059.3 L1609.0,1061.9 L1612.0,1064.5 L1615.0,1067.1 L1618.0,1069.6 L1621.0,1072.2 L1624.0,1074.8 L1627.0,1077.3 L1630.0,1079.9 L1633.0,1082.5 L1636.0,1085.2 L1639.0,1087.8 L1642.0,1090.5 L1645.0,1093.1 L1648.0,1095.9 L1651.0,1098.6 L1654.0,1101.3 L1657.0,1104.1 L1660.0,1106.9 L1663.0,1109.7 L1666.0,1112.5 L1669.0,1115.3 L1672.0,1118.1 L1675.0,1121.0 L1678.0,1123.8 L1681.0,1126.7 L1684.0,1129.5 L1687.0,1132.4 L1690.0,1135.3 L1693.0,1138.1 L1696.0,1141.0 L1699.0,1143.9 L1702.0,1146.8 L1705.0,1149.7 L1708.0,1152.7 L1711.0,1155.6 L1714.0,1158.5 L1717.0,1161.4 L1720.0,1164.4 L1723.0,1167.3 L1726.0,1170.3 L1729.0,1173.2 L1732.0,1176.2 L1735.0,1179.1 L1738.0,1182.1 L1741.0,1185.1 L1744.0,1188.1 L1747.0,1191.1 L1750.0,1194.1 L1753.0,1197.1 L1756.0,1200.2 L1759.0,1203.2 L1762.0,1206.2 L1765.0,1209.3 L1768.0,1212.4 L1771.0,1215.4 L1774.0,1218.5 L1777.0,1221.6 L1780.0,1224.7 L1783.0,1227.8 L1786.0,1231.0 L1789.0,1234.1 L1792.0,1237.3 L1795.0,1240.4 L1798.0,1243.6 L1801.0,1246.8 L1804.0,1249.9 L1807.0,1253.1 L1810.0,1256.3 L1813.0,1259.5 L1816.0,1262.7 L1819.0,1266.0 L1822.0,1269.2 L1825.0,1272.4 L1828.0,1275.6 L1831.0,1278.8 L1834.0,1282.1 L1837.0,1285.3 L1840.0,1288.5 L1843.0,1291.8 L1846.0,1295.0 L1849.0,1298.3 L1852.0,1301.5 L1855.0,1304.8 L1858.0,1308.0 L1861.0,1311.3 L1864.0,1314.5 L1867.0,1317.8 L1870.0,1321.0 L1873.0,1324.3 L1876.0,1327.5 L1879.0,1330.8 L1882.0,1334.0 L1885.0,1337.3 L1888.0,1340.5 L1891.0,1343.8 L1894.0,1347.0 L1897.0,1350.2 L1900.0,1353.5 L1903.0,1356.7 L1906.0,1360.0 L1909.0,1363.2 L1912.0,1366.4 L1915.0,1369.6 L1918.0,1372.8 L1921.0,1376.1 L1924.0,1379.3 L1927.0,1382.5 L1930.0,1385.7 L1933.0,1388.8 L1936.0,1392.0 L1939.0,1395.2 L1942.0,1398.4 L1945.0,1401.5 L1948.0,1404.7 L1951.0,1407.8 L1954.0,1410.9 L1957.0,1414.1 L1960.0,1417.2 L1963.0,1420.3 L1966.0,1423.4 L1969.0,1426.5 L1972.0,1429.6 L1975.0,1432.6 L1978.0,1435.7 L1981.0,1438.7 L1984.0,1441.8 L1987.0,1444.8 L1990.0,1447.8 L1993.0,1450.8 L1996.0,1453.8 L1999.0,1456.8 L2002.0,1459.8 L2005.0,1462.7 L2008.0,1465.7 L2011.0,1468.6 L2014.0,1471.5 L2017.0,1474.4 L2020.0,1477.3 L2023.0,1480.2 L2026.0,1483.1 L2029.0,1485.9 L2032.0,1488.8 L2035.0,1491.6 L2038.0,1494.4 L2041.0,1497.3 L2044.0,1500.0 L2047.0,1502.8 L2050.0,1505.6 L2053.0,1508.3 L2056.0,1511.1 L2059.0,1513.8 L2062.0,1516.5 L2065.0,1519.2 L2068.0,1521.9 L2071.0,1524.5 L2074.0,1527.2 L2077.0,1529.8 L2080.0,1532.4 L2083.0,1535.0 L2086.0,1537.6 L2089.0,1540.2 L2092.0,1542.7 L2095.0,1545.3 L2098.0,1547.8 L2101.0,1550.3 L2104.0,1552.8 L2107.0,1555.2 L2110.0,1557.7 L2113.0,1560.1 L2116.0,1562.5 L2119.0,1564.9 L2122.0,1567.3 L2125.0,1569.7 L2128.0,1572.0 L2131.0,1574.3 L2134.0,1576.7 L2137.0,1578.9 L2140.0,1581.2 L2143.0,1583.5 L2146.0,1585.7 L2149.0,1587.9 L2152.0,1590.1 L2155.0,1592.3 L2158.0,1594.4 L2161.0,1596.6 L2164.0,1598.7 L2167.0,1600.8 L2170.0,1602.9 L2173.0,1604.9 L2176.0,1607.0 L2179.0,1609.0 L2182.0,1611.0 L2185.0,1612.9 L2188.0,1614.9 L2191.0,1616.8 L2194.0,1618.7 L2197.0,1620.6 L2200.0,1622.5 L2203.0,1624.3 L2206.0,1626.2 L2209.0,1628.0 L2212.0,1629.7 L2215.0,1631.5 L2218.0,1633.2 L2221.0,1635.0 L2224.0,1636.7 L2227.0,1638.3 L2230.0,1640.0 L2233.0,1641.6 L2236.0,1643.3 L2239.0,1644.9 L2242.0,1646.5 L2245.0,1648.1 L2248.0,1649.6 L2251.0,1651.2 L2254.0,1652.7 L2257.0,1654.2 L2260.0,1655.7 L2263.0,1657.2 L2266.0,1658.7 L2269.0,1660.1 L2272.0,1661.6 L2275.0,1663.0 L2278.0,1664.4 L2281.0,1665.8 L2284.0,1667.2 L2287.0,1668.6 L2290.0,1670.0" stroke="#e8c264"/>
<path d="M358.0,147.5 L361.0,147.5 L364.0,147.4 L367.0,147.4 L370.0,147.3 L373.0,147.3 L376.0,147.3 L379.0,147.3 L382.0,147.2 L385.0,147.2 L388.0,147.2 L391.0,147.2 L394.0,147.3 L397.0,147.3 L400.0,147.3 L403.0,147.4 L406.0,147.4 L409.0,147.5 L412.0,147.5 L415.0,147.6 L418.0,147.7 L421.0,147.8 L424.0,147.9 L427.0,148.0 L430.0,148.1 L433.0,148.2 L436.0,148.4 L439.0,148.5 L442.0,148.7 L445.0,148.8 L448.0,149.0 L451.0,149.2 L454.0,149.4 L457.0,149.6 L460.0,149.8 L463.0,150.1 L466.0,150.3 L469.0,150.6 L472.0,150.9 L475.0,151.1 L478.0,151.4 L481.0,151.7 L484.0,152.1 L487.0,152.4 L490.0,152.8 L493.0,153.1 L496.0,153.5 L499.0,153.9 L502.0,154.3 L505.0,154.7 L508.0,155.1 L511.0,155.6 L514.0,156.0 L517.0,156.5 L520.0,157.0 L523.0,157.5 L526.0,158.0 L529.0,158.6 L532.0,159.1 L535.0,159.7 L538.0,160.3 L541.0,160.9 L544.0,161.5 L547.0,162.2 L550.0,162.8 L553.0,163.5 L556.0,164.2 L559.0,164.9 L562.0,165.6 L565.0,166.3 L568.0,167.1 L571.0,167.9 L574.0,168.7 L577.0,169.5 L580.0,170.3 L583.0,171.2 L586.0,172.1 L589.0,172.9 L592.0,173.9 L595.0,174.8 L598.0,175.8 L601.0,176.7 L604.0,177.7 L607.0,178.8 L610.0,179.8 L613.0,180.9 L616.0,182.0 L619.0,183.2 L622.0,184.4 L625.0,185.6 L628.0,186.8 L631.0,188.1 L634.0,189.4 L637.0,190.8 L640.0,192.2 L643.0,193.6 L646.0,195.1 L649.0,196.6 L652.0,198.2 L655.0,199.8 L658.0,201.4 L661.0,203.1 L664.0,204.8 L667.0,206.6 L670.0,208.5 L673.0,210.3 L676.0,212.3 L679.0,214.3 L682.0,216.3 L685.0,218.4 L688.0,220.6 L691.0,222.8 L694.0,225.0 L697.0,227.4 L700.0,229.7 L703.0,232.2 L706.0,234.7 L709.0,237.2 L712.0,239.8 L715.0,242.5 L718.0,245.2 L721.0,247.9 L724.0,250.8 L727.0,253.6 L730.0,256.5 L733.0,259.5 L736.0,262.5 L739.0,265.6 L742.0,268.7 L745.0,271.8 L748.0,275.0 L751.0,278.3 L754.0,281.6 L757.0,284.9 L760.0,288.3 L763.0,291.7 L766.0,295.2 L769.0,298.7 L772.0,302.3 L775.0,305.9 L778.0,309.5 L781.0,313.2 L784.0,316.9 L787.0,320.6 L790.0,324.4 L793.0,328.2 L796.0,332.1 L799.0,335.9 L802.0,339.8 L805.0,343.8 L808.0,347.7 L811.0,351.7 L814.0,355.7 L817.0,359.7 L820.0,363.7 L823.0,367.8 L826.0,371.8 L829.0,375.9 L832.0,380.0 L835.0,384.1 L838.0,388.2 L841.0,392.3 L844.0,396.5 L847.0,400.6 L850.0,404.7 L853.0,408.8 L856.0,413.0 L859.0,417.1 L862.0,421.2 L865.0,425.3 L868.0,429.4 L871.0,433.6 L874.0,437.6 L877.0,441.7 L880.0,445.8 L883.0,449.9 L886.0,453.9 L889.0,457.9 L892.0,461.9 L895.0,465.9 L898.0,469.9 L901.0,473.8 L904.0,477.7 L907.0,481.6 L910.0,485.5 L913.0,489.3 L916.0,493.1 L919.0,496.9 L922.0,500.6 L925.0,504.3 L928.0,508.0 L931.0,511.6 L934.0,515.2 L937.0,518.7 L940.0,522.2 L943.0,525.7 L946.0,529.1 L949.0,532.5 L952.0,535.9 L955.0,539.2 L958.0,542.5 L961.0,545.8 L964.0,549.0 L967.0,552.2 L970.0,555.4 L973.0,558.5 L976.0,561.6 L979.0,564.7 L982.0,567.7 L985.0,570.7 L988.0,573.7 L991.0,576.7 L994.0,579.6 L997.0,582.5 L1000.0,585.3 L1003.0,588.2 L1006.0,591.0 L1009.0,593.8 L1012.0,596.5 L1015.0,599.3 L1018.0,602.0 L1021.0,604.7 L1024.0,607.4 L1027.0,610.0 L1030.0,612.6 L1033.0,615.2 L1036.0,617.8 L1039.0,620.3 L1042.0,622.9 L1045.0,625.4 L1048.0,627.9 L1051.0,630.4 L1054.0,632.8 L1057.0,635.3 L1060.0,637.7 L1063.0,640.1 L1066.0,642.5 L1069.0,644.8 L1072.0,647.2 L1075.0,649.5 L1078.0,651.9 L1081.0,654.2 L1084.0,656.5 L1087.0,658.7 L1090.0,661.0 L1093.0,663.3 L1096.0,665.5 L1099.0,667.7 L1102.0,670.0 L1105.0,672.2 L1108.0,674.4 L1111.0,676.6 L1114.0,678.7 L1117.0,680.9 L1120.0,683.1 L1123.0,685.2 L1126.0,687.4 L1129.0,689.5 L1132.0,691.7 L1135.0,693.8 L1138.0,695.9 L1141.0,698.1 L1144.0,700.2 L1147.0,702.3 L1150.0,704.4 L1153.0,706.5 L1156.0,708.6 L1159.0,710.7 L1162.0,712.8 L1165.0,714.9 L1168.0,717.0 L1171.0,719.1 L1174.0,721.2 L1177.0,723.3 L1180.0,725.4 L1183.0,727.5 L1186.0,729.6 L1189.0,731.7 L1192.0,733.8 L1195.0,735.9 L1198.0,737.9 L1201.0,740.0 L1204.0,742.1 L1207.0,744.2 L1210.0,746.3 L1213.0,748.4 L1216.0,750.5 L1219.0,752.6 L1222.0,754.8 L1225.0,756.9 L1228.0,759.0 L1231.0,761.1 L1234.0,763.2 L1237.0,765.3 L1240.0,767.5 L1243.0,769.6 L1246.0,771.7 L1249.0,773.8 L1252.0,776.0 L1255.0,778.1 L1258.0,780.3 L1261.0,782.4 L1264.0,784.6 L1267.0,786.8 L1270.0,788.9 L1273.0,791.1 L1276.0,793.3 L1279.0,795.5 L1282.0,797.7 L1285.0,799.9 L1288.0,802.1 L1291.0,804.3 L1294.0,806.5 L1297.0,808.7 L1300.0,811.0 L1303.0,813.2 L1306.0,815.4 L1309.0,817.7 L1312.0,820.0 L1315.0,822.2 L1318.0,824.5 L1321.0,826.8 L1324.0,829.1 L1327.0,831.3 L1330.0,833.6 L1333.0,835.9 L1336.0,838.2 L1339.0,840.6 L1342.0,842.9 L1345.0,845.2 L1348.0,847.5 L1351.0,849.8 L1354.0,852.2 L1357.0,854.5 L1360.0,856.8 L1363.0,859.2 L1366.0,861.5 L1369.0,863.9 L1372.0,866.2 L1375.0,868.6 L1378.0,870.9 L1381.0,873.3 L1384.0,875.6 L1387.0,878.0 L1390.0,880.3 L1393.0,882.7 L1396.0,885.1 L1399.0,887.4 L1402.0,889.8 L1405.0,892.2 L1408.0,894.5 L1411.0,896.9 L1414.0,899.2 L1417.0,901.6 L1420.0,903.9 L1423.0,906.2 L1426.0,908.6 L1429.0,910.9 L1432.0,913.2 L1435.0,915.6 L1438.0,917.9 L1441.0,920.3 L1444.0,922.6 L1447.0,924.9 L1450.0,927.3 L1453.0,929.6 L1456.0,932.0 L1459.0,934.3 L1462.0,936.7 L1465.0,939.1 L1468.0,941.5 L1471.0,943.8 L1474.0,946.2 L1477.0,948.6 L1480.0,951.1 L1483.0,953.5 L1486.0,955.9 L1489.0,958.3 L1492.0,960.8 L1495.0,963.3 L1498.0,965.7 L1501.0,968.2 L1504.0,970.7 L1507.0,973.2 L1510.0,975.8 L1513.0,978.3 L1516.0,980.8 L1519.0,983.3 L1522.0,985.9 L1525.0,988.4 L1528.0,991.0 L1531.0,993.6 L1534.0,996.1 L1537.0,998.7 L1540.0,1001.3 L1543.0,1003.9 L1546.0,1006.5 L1549.0,1009.1 L1552.0,1011.7 L1555.0,1014.3 L1558.0,1016.9 L1561.0,1019.5 L1564.0,1022.1 L1567.0,1024.7 L1570.0,1027.4 L1573.0,1030.0 L1576.0,1032.6 L1579.0,1035.3 L1582.0,1037.9 L1585.0,1040.5 L1588.0,1043.2 L1591.0,1045.8 L1594.0,1048.5 L1597.0,1051.1 L1600.0,1053.8 L1603.0,1056.4 L1606.0,1059.1 L1609.0,1061.7 L1612.0,1064.4 L1615.0,1067.0 L1618.0,1069.7 L1621.0,1072.4 L1624.0,1075.0 L1627.0,1077.7 L1630.0,1080.4 L1633.0,1083.1 L1636.0,1085.8 L1639.0,1088.6 L1642.0,1091.3 L1645.0,1094.0 L1648.0,1096.8 L1651.0,1099.6 L1654.0,1102.4 L1657.0,1105.2 L1660.0,1108.0 L1663.0,1110.9 L1666.0,1113.7 L1669.0,1116.5 L1672.0,1119.4 L1675.0,1122.2 L1678.0,1125.1 L1681.0,1128.0 L1684.0,1130.9 L1687.0,1133.8 L1690.0,1136.7 L1693.0,1139.6 L1696.0,1142.5 L1699.0,1145.4 L1702.0,1148.4 L1705.0,1151.3 L1708.0,1154.2 L1711.0,1157.2 L1714.0,1160.1 L1717.0,1163.1 L1720.0,1166.1 L1723.0,1169.0 L1726.0,1172.0 L1729.0,1175.0 L1732.0,1178.0 L1735.0,1181.0 L1738.0,1184.0 L1741.0,1187.0 L1744.0,1190.0 L1747.0,1193.1 L1750.0,1196.1 L1753.0,1199.2 L1756.0,1202.2 L1759.0,1205.3 L1762.0,1208.3 L1765.0,1211.4 L1768.0,1214.5 L1771.0,1217.6 L1774.0,1220.7 L1777.0,1223.8 L1780.0,1227.0 L1783.0,1230.1 L1786.0,1233.2 L1789.0,1236.4 L1792.0,1239.5 L1795.0,1242.7 L1798.0,1245.9 L1801.0,1249.1 L1804.0,1252.3 L1807.0,1255.4 L1810.0,1258.6 L1813.0,1261.8 L1816.0,1265.1 L1819.0,1268.3 L1822.0,1271.5 L1825.0,1274.7 L1828.0,1277.9 L1831.0,1281.2 L1834.0,1284.4 L1837.0,1287.6 L1840.0,1290.9 L1843.0,1294.1 L1846.0,1297.3 L1849.0,1300.6 L1852.0,1303.8 L1855.0,1307.1 L1858.0,1310.3 L1861.0,1313.6 L1864.0,1316.8 L1867.0,1320.1 L1870.0,1323.3 L1873.0,1326.6 L1876.0,1329.8 L1879.0,1333.1 L1882.0,1336.3 L1885.0,1339.6 L1888.0,1342.8 L1891.0,1346.1 L1894.0,1349.3 L1897.0,1352.5 L1900.0,1355.8 L1903.0,1359.0 L1906.0,1362.3 L1909.0,1365.5 L1912.0,1368.7 L1915.0,1371.9 L1918.0,1375.1 L1921.0,1378.4 L1924.0,1381.6 L1927.0,1384.8 L1930.0,1388.0 L1933.0,1391.1 L1936.0,1394.3 L1939.0,1397.5 L1942.0,1400.7 L1945.0,1403.8 L1948.0,1407.0 L1951.0,1410.1 L1954.0,1413.2 L1957.0,1416.4 L1960.0,1419.5 L1963.0,1422.6 L1966.0,1425.7 L1969.0,1428.8 L1972.0,1431.9 L1975.0,1434.9 L1978.0,1438.0 L1981.0,1441.0 L1984.0,1444.1 L1987.0,1447.1 L1990.0,1450.1 L1993.0,1453.1 L1996.0,1456.1 L1999.0,1459.1 L2002.0,1462.1 L2005.0,1465.0 L2008.0,1468.0 L2011.0,1470.9 L2014.0,1473.8 L2017.0,1476.7 L2020.0,1479.6 L2023.0,1482.5 L2026.0,1485.4 L2029.0,1488.3 L2032.0,1491.1 L2035.0,1493.9 L2038.0,1496.8 L2041.0,1499.6 L2044.0,1502.4 L2047.0,1505.1 L2050.0,1507.9 L2053.0,1510.7 L2056.0,1513.4 L2059.0,1516.1 L2062.0,1518.8 L2065.0,1521.5 L2068.0,1524.2 L2071.0,1526.8 L2074.0,1529.5 L2077.0,1532.1 L2080.0,1534.7 L2083.0,1537.3 L2086.0,1539.9 L2089.0,1542.5 L2092.0,1545.1 L2095.0,1547.6 L2098.0,1550.1 L2101.0,1552.6 L2104.0,1555.1 L2107.0,1557.6 L2110.0,1560.0 L2113.0,1562.5 L2116.0,1564.9 L2119.0,1567.3 L2122.0,1569.7 L2125.0,1572.0 L2128.0,1574.4 L2131.0,1576.7 L2134.0,1579.0 L2137.0,1581.3 L2140.0,1583.6 L2143.0,1585.8 L2146.0,1588.0 L2149.0,1590.3 L2152.0,1592.5 L2155.0,1594.6 L2158.0,1596.8 L2161.0,1598.9 L2164.0,1601.0 L2167.0,1603.1 L2170.0,1605.2 L2173.0,1607.3 L2176.0,1609.3 L2179.0,1611.3 L2182.0,1613.3 L2185.0,1615.3 L2188.0,1617.3 L2191.0,1619.2 L2194.0,1621.1 L2197.0,1623.0 L2200.0,1624.8 L2203.0,1626.7 L2206.0,1628.5 L2209.0,1630.3 L2212.0,1632.1 L2215.0,1633.9 L2218.0,1635.6 L2221.0,1637.3 L2224.0,1639.0 L2227.0,1640.7 L2230.0,1642.4 L2233.0,1644.0 L2236.0,1645.6 L2239.0,1647.3 L2242.0,1648.9 L2245.0,1650.4 L2248.0,1652.0 L2251.0,1653.5 L2254.0,1655.1 L2257.0,1656.6 L2260.0,1658.1 L2263.0,1659.6 L2266.0,1661.1 L2269.0,1662.5 L2272.0,1664.0 L2275.0,1665.4 L2278.0,1666.8 L2281.0,1668.2 L2284.0,1669.6 L2287.0,1671.0 L2290.0,1672.4" stroke="#00dc00"/>
<path d="M358.0,165.8 L361.0,165.8 L364.0,165.8 L367.0,165.8 L370.0,165.9 L373.0,165.9 L376.0,165.9 L379.0,165.9 L382.0,165.9 L385.0,165.9 L388.0,165.9 L391.0,166.0 L394.0,166.0 L397.0,166.0 L400.0,166.0 L403.0,166.0 L406.0,166.1 L409.0,166.1 L412.0,166.1 L415.0,166.1 L418.0,166.1 L421.0,166.1 L424.0,166.2 L427.0,166.2 L430.0,166.2 L433.0,166.2 L436.0,166.2 L439.0,166.2 L442.0,166.2 L445.0,166.3 L448.0,166.3 L451.0,166.3 L454.0,166.3 L457.0,166.3 L460.0,166.4 L463.0,166.4 L466.0,166.4 L469.0,166.4 L472.0,166.5 L475.0,166.5 L478.0,166.6 L481.0,166.6 L484.0,166.6 L487.0,166.7 L490.0,166.7 L493.0,166.8 L496.0,166.9 L499.0,166.9 L502.0,167.0 L505.0,167.1 L508.0,167.1 L511.0,167.2 L514.0,167.3 L517.0,167.4 L520.0,167.5 L523.0,167.6 L526.0,167.7 L529.0,167.8 L532.0,167.9 L535.0,168.1 L538.0,168.2 L541.0,168.4 L544.0,168.5 L547.0,168.7 L550.0,168.8 L553.0,169.0 L556.0,169.2 L559.0,169.4 L562.0,169.6 L565.0,169.8 L568.0,170.0 L571.0,170.2 L574.0,170.4 L577.0,170.7 L580.0,170.9 L583.0,171.2 L586.0,171.4 L589.0,171.7 L592.0,172.0 L595.0,172.3 L598.0,172.6 L601.0,172.9 L604.0,173.3 L607.0,173.6 L610.0,174.0 L613.0,174.3 L616.0,174.7 L619.0,175.1 L622.0,175.5 L625.0,175.9 L628.0,176.3 L631.0,176.8 L634.0,177.2 L637.0,177.7 L640.0,178.1 L643.0,178.6 L646.0,179.1 L649.0,179.7 L652.0,180.2 L655.0,180.8 L658.0,181.3 L661.0,181.9 L664.0,182.5 L667.0,183.2 L670.0,183.8 L673.0,184.5 L676.0,185.2 L679.0,185.9 L682.0,186.7 L685.0,187.5 L688.0,188.3 L691.0,189.1 L694.0,190.0 L697.0,190.8 L700.0,191.7 L703.0,192.7 L706.0,193.7 L709.0,194.7 L712.0,195.7 L715.0,196.8 L718.0,197.9 L721.0,199.0 L724.0,200.2 L727.0,201.4 L730.0,202.6 L733.0,203.9 L736.0,205.2 L739.0,206.5 L742.0,207.9 L745.0,209.4 L748.0,210.8 L751.0,212.4 L754.0,213.9 L757.0,215.5 L760.0,217.1 L763.0,218.8 L766.0,220.6 L769.0,222.3 L772.0,224.2 L775.0,226.0 L778.0,227.9 L781.0,229.9 L784.0,231.9 L787.0,234.0 L790.0,236.1 L793.0,238.3 L796.0,240.5 L799.0,242.8 L802.0,245.1 L805.0,247.5 L808.0,249.9 L811.0,252.4 L814.0,255.0 L817.0,257.6 L820.0,260.2 L823.0,263.0 L826.0,265.7 L829.0,268.6 L832.0,271.5 L835.0,274.5 L838.0,277.5 L841.0,280.6 L844.0,283.7 L847.0,287.0 L850.0,290.2 L853.0,293.6 L856.0,297.0 L859.0,300.5 L862.0,304.0 L865.0,307.6 L868.0,311.3 L871.0,315.0 L874.0,318.8 L877.0,322.6 L880.0,326.4 L883.0,330.3 L886.0,334.3 L889.0,338.3 L892.0,342.3 L895.0,346.4 L898.0,350.5 L901.0,354.6 L904.0,358.8 L907.0,363.0 L910.0,367.3 L913.0,371.5 L916.0,375.8 L919.0,380.1 L922.0,384.4 L925.0,388.8 L928.0,393.1 L931.0,397.5 L934.0,401.9 L937.0,406.3 L940.0,410.7 L943.0,415.1 L946.0,419.5 L949.0,423.9 L952.0,428.4 L955.0,432.8 L958.0,437.2 L961.0,441.6 L964.0,446.0 L967.0,450.4 L970.0,454.8 L973.0,459.1 L976.0,463.5 L979.0,467.8 L982.0,472.1 L985.0,476.4 L988.0,480.7 L991.0,484.9 L994.0,489.1 L997.0,493.3 L1000.0,497.4 L1003.0,501.6 L1006.0,505.6 L1009.0,509.7 L1012.0,513.7 L1015.0,517.6 L1018.0,521.6 L1021.0,525.5 L1024.0,529.3 L1027.0,533.1 L1030.0,536.9 L1033.0,540.7 L1036.0,544.4 L1039.0,548.0 L1042.0,551.7 L1045.0,555.3 L1048.0,558.9 L1051.0,562.4 L1054.0,566.0 L1057.0,569.4 L1060.0,572.9 L1063.0,576.3 L1066.0,579.8 L1069.0,583.1 L1072.0,586.5 L1075.0,589.8 L1078.0,593.1 L1081.0,596.4 L1084.0,599.7 L1087.0,602.9 L1090.0,606.1 L1093.0,609.3 L1096.0,612.5 L1099.0,615.7 L1102.0,618.8 L1105.0,621.9 L1108.0,625.0 L1111.0,628.1 L1114.0,631.2 L1117.0,634.2 L1120.0,637.2 L1123.0,640.3 L1126.0,643.3 L1129.0,646.2 L1132.0,649.2 L1135.0,652.1 L1138.0,655.1 L1141.0,658.0 L1144.0,660.9 L1147.0,663.7 L1150.0,666.6 L1153.0,669.4 L1156.0,672.2 L1159.0,675.0 L1162.0,677.8 L1165.0,680.6 L1168.0,683.3 L1171.0,686.0 L1174.0,688.7 L1177.0,691.4 L1180.0,694.1 L1183.0,696.7 L1186.0,699.3 L1189.0,701.9 L1192.0,704.5 L1195.0,707.1 L1198.0,709.6 L1201.0,712.1 L1204.0,714.6 L1207.0,717.1 L1210.0,719.6 L1213.0,722.0 L1216.0,724.5 L1219.0,726.9 L1222.0,729.3 L1225.0,731.7 L1228.0,734.1 L1231.0,736.5 L1234.0,738.9 L1237.0,741.2 L1240.0,743.6 L1243.0,745.9 L1246.0,748.3 L1249.0,750.7 L1252.0,753.0 L1255.0,755.4 L1258.0,757.8 L1261.0,760.1 L1264.0,762.5 L1267.0,764.9 L1270.0,767.3 L1273.0,769.7 L1276.0,772.1 L1279.0,774.6 L1282.0,777.0 L1285.0,779.5 L1288.0,782.0 L1291.0,784.5 L1294.0,787.0 L1297.0,789.5 L1300.0,792.1 L1303.0,794.7 L1306.0,797.3 L1309.0,799.9 L1312.0,802.5 L1315.0,805.2 L1318.0,807.8 L1321.0,810.5 L1324.0,813.2 L1327.0,815.8 L1330.0,818.5 L1333.0,821.2 L1336.0,823.9 L1339.0,826.6 L1342.0,829.3 L1345.0,832.0 L1348.0,834.6 L1351.0,837.3 L1354.0,839.9 L1357.0,842.6 L1360.0,845.2 L1363.0,847.9 L1366.0,850.5 L1369.0,853.1 L1372.0,855.7 L1375.0,858.3 L1378.0,860.9 L1381.0,863.4 L1384.0,866.0 L1387.0,868.6 L1390.0,871.1 L1393.0,873.7 L1396.0,876.3 L1399.0,878.8 L1402.0,881.4 L1405.0,883.9 L1408.0,886.4 L1411.0,889.0 L1414.0,891.5 L1417.0,894.0 L1420.0,896.5 L1423.0,899.0 L1426.0,901.5 L1429.0,904.0 L1432.0,906.5 L1435.0,909.0 L1438.0,911.5 L1441.0,914.0 L1444.0,916.5 L1447.0,919.0 L1450.0,921.5 L1453.0,924.0 L1456.0,926.5 L1459.0,929.0 L1462.0,931.5 L1465.0,934.0 L1468.0,936.5 L1471.0,939.0 L1474.0,941.6 L1477.0,944.1 L1480.0,946.6 L1483.0,949.2 L1486.0,951.7 L1489.0,954.3 L1492.0,956.8 L1495.0,959.4 L1498.0,962.0 L1501.0,964.6 L1504.0,967.2 L1507.0,969.8 L1510.0,972.4 L1513.0,975.0 L1516.0,977.6 L1519.0,980.2 L1522.0,982.8 L1525.0,985.4 L1528.0,988.0 L1531.0,990.6 L1534.0,993.3 L1537.0,995.9 L1540.0,998.5 L1543.0,1001.2 L1546.0,1003.8 L1549.0,1006.5 L1552.0,1009.1 L1555.0,1011.8 L1558.0,1014.4 L1561.0,1017.1 L1564.0,1019.8 L1567.0,1022.5 L1570.0,1025.2 L1573.0,1027.9 L1576.0,1030.6 L1579.0,1033.3 L1582.0,1036.0 L1585.0,1038.8 L1588.0,1041.5 L1591.0,1044.3 L1594.0,1047.0 L1597.0,1049.8 L1600.0,1052.6 L1603.0,1055.4 L1606.0,1058.2 L1609.0,1061.0 L1612.0,1063.8 L1615.0,1066.6 L1618.0,1069.4 L1621.0,1072.3 L1624.0,1075.1 L1627.0,1077.9 L1630.0,1080.8 L1633.0,1083.6 L1636.0,1086.5 L1639.0,1089.4 L1642.0,1092.2 L1645.0,1095.1 L1648.0,1098.0 L1651.0,1100.8 L1654.0,1103.7 L1657.0,1106.6 L1660.0,1109.5 L1663.0,1112.4 L1666.0,1115.2 L1669.0,1118.1 L1672.0,1121.0 L1675.0,1123.9 L1678.0,1126.8 L1681.0,1129.8 L1684.0,1132.7 L1687.0,1135.6 L1690.0,1138.6 L1693.0,1141.5 L1696.0,1144.5 L1699.0,1147.4 L1702.0,1150.4 L1705.0,1153.4 L1708.0,1156.3 L1711.0,1159.3 L1714.0,1162.3 L1717.0,1165.3 L1720.0,1168.3 L1723.0,1171.3 L1726.0,1174.4 L1729.0,1177.4 L1732.0,1180.4 L1735.0,1183.4 L1738.0,1186.5 L1741.0,1189.5 L1744.0,1192.6 L1747.0,1195.7 L1750.0,1198.7 L1753.0,1201.8 L1756.0,1204.9 L1759.0,1208.0 L1762.0,1211.1 L1765.0,1214.2 L1768.0,1217.3 L1771.0,1220.5 L1774.0,1223.6 L1777.0,1226.7 L1780.0,1229.9 L1783.0,1233.0 L1786.0,1236.2 L1789.0,1239.3 L1792.0,1242.5 L1795.0,1245.7 L1798.0,1248.9 L1801.0,1252.1 L1804.0,1255.3 L1807.0,1258.5 L1810.0,1261.7 L1813.0,1264.9 L1816.0,1268.1 L1819.0,1271.3 L1822.0,1274.5 L1825.0,1277.8 L1828.0,1281.0 L1831.0,1284.2 L1834.0,1287.5 L1837.0,1290.7 L1840.0,1293.9 L1843.0,1297.2 L1846.0,1300.4 L1849.0,1303.7 L1852.0,1306.9 L1855.0,1310.2 L1858.0,1313.4 L1861.0,1316.7 L1864.0,1319.9 L1867.0,1323.1 L1870.0,1326.4 L1873.0,1329.6 L1876.0,1332.9 L1879.0,1336.1 L1882.0,1339.4 L1885.0,1342.6 L1888.0,1345.9 L1891.0,1349.1 L1894.0,1352.3 L1897.0,1355.6 L1900.0,1358.8 L1903.0,1362.0 L1906.0,1365.2 L1909.0,1368.4 L1912.0,1371.7 L1915.0,1374.9 L1918.0,1378.1 L1921.0,1381.3 L1924.0,1384.5 L1927.0,1387.6 L1930.0,1390.8 L1933.0,1394.0 L1936.0,1397.2 L1939.0,1400.3 L1942.0,1403.5 L1945.0,1406.6 L1948.0,1409.8 L1951.0,1412.9 L1954.0,1416.0 L1957.0,1419.1 L1960.0,1422.2 L1963.0,1425.3 L1966.0,1428.4 L1969.0,1431.5 L1972.0,1434.6 L1975.0,1437.6 L1978.0,1440.7 L1981.0,1443.7 L1984.0,1446.7 L1987.0,1449.7 L1990.0,1452.7 L1993.0,1455.7 L1996.0,1458.7 L1999.0,1461.7 L2002.0,1464.7 L2005.0,1467.6 L2008.0,1470.5 L2011.0,1473.5 L2014.0,1476.4 L2017.0,1479.3 L2020.0,1482.2 L2023.0,1485.1 L2026.0,1487.9 L2029.0,1490.8 L2032.0,1493.6 L2035.0,1496.4 L2038.0,1499.2 L2041.0,1502.0 L2044.0,1504.8 L2047.0,1507.6 L2050.0,1510.4 L2053.0,1513.1 L2056.0,1515.8 L2059.0,1518.5 L2062.0,1521.2 L2065.0,1523.9 L2068.0,1526.6 L2071.0,1529.3 L2074.0,1531.9 L2077.0,1534.5 L2080.0,1537.1 L2083.0,1539.7 L2086.0,1542.3 L2089.0,1544.9 L2092.0,1547.4 L2095.0,1549.9 L2098.0,1552.4 L2101.0,1554.9 L2104.0,1557.4 L2107.0,1559.9 L2110.0,1562.3 L2113.0,1564.7 L2116.0,1567.2 L2119.0,1569.5 L2122.0,1571.9 L2125.0,1574.3 L2128.0,1576.6 L2131.0,1578.9 L2134.0,1581.2 L2137.0,1583.5 L2140.0,1585.8 L2143.0,1588.0 L2146.0,1590.3 L2149.0,1592.5 L2152.0,1594.7 L2155.0,1596.8 L2158.0,1599.0 L2161.0,1601.1 L2164.0,1603.2 L2167.0,1605.3 L2170.0,1607.4 L2173.0,1609.4 L2176.0,1611.5 L2179.0,1613.5 L2182.0,1615.5 L2185.0,1617.4 L2188.0,1619.4 L2191.0,1621.3 L2194.0,1623.2 L2197.0,1625.1 L2200.0,1627.0 L2203.0,1628.8 L2206.0,1630.6 L2209.0,1632.4 L2212.0,1634.2 L2215.0,1635.9 L2218.0,1637.7 L2221.0,1639.4 L2224.0,1641.1 L2227.0,1642.8 L2230.0,1644.4 L2233.0,1646.1 L2236.0,1647.7 L2239.0,1649.3 L2242.0,1650.9 L2245.0,1652.5 L2248.0,1654.0 L2251.0,1655.6 L2254.0,1657.1 L2257.0,1658.6 L2260.0,1660.1 L2263.0,1661.6 L2266.0,1663.1 L2269.0,1664.5 L2272.0,1666.0 L2275.0,1667.4 L2278.0,1668.8 L2281.0,1670.2 L2284.0,1671.6 L2287.0,1673.0 L2290.0,1674.4" stroke="#00a0ff"/>
<path d="M358.0,208.8 L361.0,208.8 L364.0,208.8 L367.0,208.8 L370.0,208.8 L373.0,208.8 L376.0,208.8 L379.0,208.8 L382.0,208.7 L385.0,208.7 L388.0,208.7 L391.0,208.7 L394.0,208.7 L397.0,208.7 L400.0,208.6 L403.0,208.6 L406.0,208.6 L409.0,208.6 L412.0,208.6 L415.0,208.5 L418.0,208.5 L421.0,208.5 L424.0,208.5 L427.0,208.4 L430.0,208.4 L433.0,208.4 L436.0,208.4 L439.0,208.3 L442.0,208.3 L445.0,208.3 L448.0,208.3 L451.0,208.2 L454.0,208.2 L457.0,208.2 L460.0,208.2 L463.0,208.1 L466.0,208.1 L469.0,208.1 L472.0,208.1 L475.0,208.0 L478.0,208.0 L481.0,208.0 L484.0,207.9 L487.0,207.9 L490.0,207.9 L493.0,207.9 L496.0,207.8 L499.0,207.8 L502.0,207.8 L505.0,207.8 L508.0,207.7 L511.0,207.7 L514.0,207.7 L517.0,207.7 L520.0,207.6 L523.0,207.6 L526.0,207.6 L529.0,207.6 L532.0,207.5 L535.0,207.5 L538.0,207.5 L541.0,207.5 L544.0,207.5 L547.0,207.4 L550.0,207.4 L553.0,207.4 L556.0,207.4 L559.0,207.4 L562.0,207.3 L565.0,207.3 L568.0,207.3 L571.0,207.3 L574.0,207.3 L577.0,207.3 L580.0,207.2 L583.0,207.2 L586.0,207.2 L589.0,207.2 L592.0,207.2 L595.0,207.2 L598.0,207.2 L601.0,207.2 L604.0,207.2 L607.0,207.2 L610.0,207.2 L613.0,207.2 L616.0,207.2 L619.0,207.2 L622.0,207.2 L625.0,207.2 L628.0,207.2 L631.0,207.2 L634.0,207.2 L637.0,207.2 L640.0,207.2 L643.0,207.2 L646.0,207.2 L649.0,207.2 L652.0,207.2 L655.0,207.3 L658.0,207.3 L661.0,207.3 L664.0,207.3 L667.0,207.3 L670.0,207.4 L673.0,207.4 L676.0,207.4 L679.0,207.5 L682.0,207.5 L685.0,207.6 L688.0,207.7 L691.0,207.7 L694.0,207.8 L697.0,207.9 L700.0,208.0 L703.0,208.1 L706.0,208.3 L709.0,208.4 L712.0,208.5 L715.0,208.7 L718.0,208.9 L721.0,209.1 L724.0,209.3 L727.0,209.5 L730.0,209.8 L733.0,210.0 L736.0,210.3 L739.0,210.6 L742.0,210.9 L745.0,211.2 L748.0,211.6 L751.0,212.0 L754.0,212.4 L757.0,212.8 L760.0,213.2 L763.0,213.7 L766.0,214.2 L769.0,214.7 L772.0,215.3 L775.0,215.8 L778.0,216.4 L781.0,217.1 L784.0,217.7 L787.0,218.4 L790.0,219.1 L793.0,219.9 L796.0,220.6 L799.0,221.4 L802.0,222.3 L805.0,223.2 L808.0,224.1 L811.0,225.0 L814.0,226.0 L817.0,227.0 L820.0,228.0 L823.0,229.1 L826.0,230.2 L829.0,231.4 L832.0,232.6 L835.0,233.8 L838.0,235.1 L841.0,236.4 L844.0,237.8 L847.0,239.2 L850.0,240.6 L853.0,242.1 L856.0,243.6 L859.0,245.2 L862.0,246.8 L865.0,248.5 L868.0,250.2 L871.0,252.0 L874.0,253.8 L877.0,255.6 L880.0,257.5 L883.0,259.5 L886.0,261.5 L889.0,263.5 L892.0,265.7 L895.0,267.8 L898.0,270.0 L901.0,272.3 L904.0,274.6 L907.0,277.0 L910.0,279.4 L913.0,281.9 L916.0,284.5 L919.0,287.1 L922.0,289.7 L925.0,292.4 L928.0,295.2 L931.0,298.1 L934.0,301.0 L937.0,303.9 L940.0,306.9 L943.0,310.0 L946.0,313.2 L949.0,316.4 L952.0,319.7 L955.0,323.0 L958.0,326.4 L961.0,329.8 L964.0,333.3 L967.0,336.8 L970.0,340.4 L973.0,344.0 L976.0,347.7 L979.0,351.4 L982.0,355.2 L985.0,359.0 L988.0,362.8 L991.0,366.7 L994.0,370.6 L997.0,374.5 L1000.0,378.5 L1003.0,382.5 L1006.0,386.5 L1009.0,390.6 L1012.0,394.6 L1015.0,398.7 L1018.0,402.9 L1021.0,407.0 L1024.0,411.2 L1027.0,415.3 L1030.0,419.5 L1033.0,423.7 L1036.0,428.0 L1039.0,432.2 L1042.0,436.4 L1045.0,440.7 L1048.0,445.0 L1051.0,449.2 L1054.0,453.5 L1057.0,457.8 L1060.0,462.1 L1063.0,466.4 L1066.0,470.7 L1069.0,475.0 L1072.0,479.3 L1075.0,483.7 L1078.0,488.0 L1081.0,492.3 L1084.0,496.6 L1087.0,501.0 L1090.0,505.3 L1093.0,509.6 L1096.0,513.9 L1099.0,518.3 L1102.0,522.6 L1105.0,526.9 L1108.0,531.2 L1111.0,535.5 L1114.0,539.8 L1117.0,544.1 L1120.0,548.4 L1123.0,552.7 L1126.0,556.9 L1129.0,561.2 L1132.0,565.4 L1135.0,569.7 L1138.0,573.9 L1141.0,578.1 L1144.0,582.3 L1147.0,586.5 L1150.0,590.6 L1153.0,594.8 L1156.0,598.9 L1159.0,603.0 L1162.0,607.1 L1165.0,611.2 L1168.0,615.3 L1171.0,619.3 L1174.0,623.3 L1177.0,627.3 L1180.0,631.3 L1183.0,635.2 L1186.0,639.2 L1189.0,643.1 L1192.0,646.9 L1195.0,650.8 L1198.0,654.6 L1201.0,658.4 L1204.0,662.2 L1207.0,665.9 L1210.0,669.6 L1213.0,673.3 L1216.0,676.9 L1219.0,680.5 L1222.0,684.1 L1225.0,687.7 L1228.0,691.2 L1231.0,694.6 L1234.0,698.1 L1237.0,701.5 L1240.0,704.9 L1243.0,708.2 L1246.0,711.5 L1249.0,714.8 L1252.0,718.1 L1255.0,721.3 L1258.0,724.5 L1261.0,727.7 L1264.0,730.9 L1267.0,734.0 L1270.0,737.1 L1273.0,740.2 L1276.0,743.3 L1279.0,746.3 L1282.0,749.4 L1285.0,752.4 L1288.0,755.4 L1291.0,758.4 L1294.0,761.3 L1297.0,764.3 L1300.0,767.2 L1303.0,770.2 L1306.0,773.1 L1309.0,776.0 L1312.0,778.9 L1315.0,781.8 L1318.0,784.7 L1321.0,787.6 L1324.0,790.4 L1327.0,793.3 L1330.0,796.2 L1333.0,799.0 L1336.0,801.9 L1339.0,804.7 L1342.0,807.6 L1345.0,810.4 L1348.0,813.2 L1351.0,816.1 L1354.0,818.9 L1357.0,821.7 L1360.0,824.5 L1363.0,827.3 L1366.0,830.2 L1369.0,833.0 L1372.0,835.8 L1375.0,838.6 L1378.0,841.4 L1381.0,844.2 L1384.0,847.0 L1387.0,849.8 L1390.0,852.6 L1393.0,855.3 L1396.0,858.1 L1399.0,860.9 L1402.0,863.7 L1405.0,866.5 L1408.0,869.3 L1411.0,872.1 L1414.0,874.8 L1417.0,877.6 L1420.0,880.4 L1423.0,883.2 L1426.0,886.0 L1429.0,888.7 L1432.0,891.5 L1435.0,894.3 L1438.0,897.1 L1441.0,899.8 L1444.0,902.6 L1447.0,905.4 L1450.0,908.2 L1453.0,910.9 L1456.0,913.7 L1459.0,916.5 L1462.0,919.3 L1465.0,922.0 L1468.0,924.8 L1471.0,927.6 L1474.0,930.4 L1477.0,933.2 L1480.0,935.9 L1483.0,938.7 L1486.0,941.5 L1489.0,944.3 L1492.0,947.1 L1495.0,949.9 L1498.0,952.6 L1501.0,955.4 L1504.0,958.2 L1507.0,961.0 L1510.0,963.8 L1513.0,966.6 L1516.0,969.4 L1519.0,972.2 L1522.0,975.0 L1525.0,977.8 L1528.0,980.6 L1531.0,983.4 L1534.0,986.2 L1537.0,989.0 L1540.0,991.8 L1543.0,994.6 L1546.0,997.4 L1549.0,1000.3 L1552.0,1003.1 L1555.0,1005.9 L1558.0,1008.7 L1561.0,1011.6 L1564.0,1014.4 L1567.0,1017.2 L1570.0,1020.1 L1573.0,1022.9 L1576.0,1025.7 L1579.0,1028.6 L1582.0,1031.4 L1585.0,1034.3 L1588.0,1037.1 L1591.0,1040.0 L1594.0,1042.8 L1597.0,1045.7 L1600.0,1048.6 L1603.0,1051.4 L1606.0,1054.3 L1609.0,1057.2 L1612.0,1060.1 L1615.0,1063.0 L1618.0,1065.8 L1621.0,1068.7 L1624.0,1071.6 L1627.0,1074.5 L1630.0,1077.4 L1633.0,1080.3 L1636.0,1083.2 L1639.0,1086.2 L1642.0,1089.1 L1645.0,1092.0 L1648.0,1094.9 L1651.0,1097.9 L1654.0,1100.8 L1657.0,1103.7 L1660.0,1106.7 L1663.0,1109.6 L1666.0,1112.6 L1669.0,1115.5 L1672.0,1118.5 L1675.0,1121.5 L1678.0,1124.4 L1681.0,1127.4 L1684.0,1130.4 L1687.0,1133.4 L1690.0,1136.4 L1693.0,1139.4 L1696.0,1142.4 L1699.0,1145.4 L1702.0,1148.4 L1705.0,1151.4 L1708.0,1154.5 L1711.0,1157.5 L1714.0,1160.5 L1717.0,1163.6 L1720.0,1166.6 L1723.0,1169.7 L1726.0,1172.7 L1729.0,1175.8 L1732.0,1178.9 L1735.0,1181.9 L1738.0,1185.0 L1741.0,1188.1 L1744.0,1191.2 L1747.0,1194.3 L1750.0,1197.4 L1753.0,1200.5 L1756.0,1203.7 L1759.0,1206.8 L1762.0,1209.9 L1765.0,1213.1 L1768.0,1216.2 L1771.0,1219.4 L1774.0,1222.5 L1777.0,1225.7 L1780.0,1228.9 L1783.0,1232.0 L1786.0,1235.2 L1789.0,1238.4 L1792.0,1241.6 L1795.0,1244.8 L1798.0,1248.1 L1801.0,1251.3 L1804.0,1254.5 L1807.0,1257.7 L1810.0,1261.0 L1813.0,1264.2 L1816.0,1267.4 L1819.0,1270.7 L1822.0,1273.9 L1825.0,1277.2 L1828.0,1280.4 L1831.0,1283.7 L1834.0,1287.0 L1837.0,1290.2 L1840.0,1293.5 L1843.0,1296.8 L1846.0,1300.0 L1849.0,1303.3 L1852.0,1306.6 L1855.0,1309.8 L1858.0,1313.1 L1861.0,1316.4 L1864.0,1319.7 L1867.0,1322.9 L1870.0,1326.2 L1873.0,1329.5 L1876.0,1332.7 L1879.0,1336.0 L1882.0,1339.3 L1885.0,1342.5 L1888.0,1345.8 L1891.0,1349.0 L1894.0,1352.3 L1897.0,1355.5 L1900.0,1358.8 L1903.0,1362.0 L1906.0,1365.3 L1909.0,1368.5 L1912.0,1371.7 L1915.0,1375.0 L1918.0,1378.2 L1921.0,1381.4 L1924.0,1384.6 L1927.0,1387.8 L1930.0,1391.0 L1933.0,1394.2 L1936.0,1397.4 L1939.0,1400.5 L1942.0,1403.7 L1945.0,1406.9 L1948.0,1410.0 L1951.0,1413.2 L1954.0,1416.3 L1957.0,1419.4 L1960.0,1422.6 L1963.0,1425.7 L1966.0,1428.8 L1969.0,1431.9 L1972.0,1434.9 L1975.0,1438.0 L1978.0,1441.1 L1981.0,1444.1 L1984.0,1447.2 L1987.0,1450.2 L1990.0,1453.2 L1993.0,1456.2 L1996.0,1459.2 L1999.0,1462.2 L2002.0,1465.2 L2005.0,1468.1 L2008.0,1471.1 L2011.0,1474.0 L2014.0,1476.9 L2017.0,1479.8 L2020.0,1482.7 L2023.0,1485.6 L2026.0,1488.5 L2029.0,1491.4 L2032.0,1494.2 L2035.0,1497.1 L2038.0,1499.9 L2041.0,1502.7 L2044.0,1505.5 L2047.0,1508.3 L2050.0,1511.0 L2053.0,1513.8 L2056.0,1516.5 L2059.0,1519.2 L2062.0,1521.9 L2065.0,1524.6 L2068.0,1527.3 L2071.0,1530.0 L2074.0,1532.6 L2077.0,1535.3 L2080.0,1537.9 L2083.0,1540.5 L2086.0,1543.1 L2089.0,1545.6 L2092.0,1548.2 L2095.0,1550.7 L2098.0,1553.3 L2101.0,1555.8 L2104.0,1558.2 L2107.0,1560.7 L2110.0,1563.2 L2113.0,1565.6 L2116.0,1568.0 L2119.0,1570.4 L2122.0,1572.8 L2125.0,1575.2 L2128.0,1577.5 L2131.0,1579.9 L2134.0,1582.2 L2137.0,1584.5 L2140.0,1586.7 L2143.0,1589.0 L2146.0,1591.2 L2149.0,1593.4 L2152.0,1595.6 L2155.0,1597.8 L2158.0,1600.0 L2161.0,1602.1 L2164.0,1604.2 L2167.0,1606.3 L2170.0,1608.4 L2173.0,1610.5 L2176.0,1612.5 L2179.0,1614.5 L2182.0,1616.5 L2185.0,1618.5 L2188.0,1620.4 L2191.0,1622.4 L2194.0,1624.3 L2197.0,1626.2 L2200.0,1628.0 L2203.0,1629.9 L2206.0,1631.7 L2209.0,1633.5 L2212.0,1635.3 L2215.0,1637.0 L2218.0,1638.8 L2221.0,1640.5 L2224.0,1642.2 L2227.0,1643.9 L2230.0,1645.6 L2233.0,1647.2 L2236.0,1648.8 L2239.0,1650.5 L2242.0,1652.0 L2245.0,1653.6 L2248.0,1655.2 L2251.0,1656.7 L2254.0,1658.3 L2257.0,1659.8 L2260.0,1661.3 L2263.0,1662.8 L2266.0,1664.3 L2269.0,1665.7 L2272.0,1667.2 L2275.0,1668.6 L2278.0,1670.0 L2281.0,1671.4 L2284.0,1672.8 L2287.0,1674.2 L2290.0,1675.6" stroke="#9900cc"/>
</g>
<polygon shape-rendering="crispEdges" fill="#ff00ff" points="1404.6,183.6 1408.0,180.2 1597.4,180.2 1600.8,183.6 1600.8,188.8 1597.4,192.2 1408.0,192.2 1404.6,188.8"/>
<polygon shape-rendering="crispEdges" fill="#ff0000" points="1404.6,285.4 1408.0,282.0 1597.4,282.0 1600.8,285.4 1600.8,290.6 1597.4,294.0 1408.0,294.0 1404.6,290.6"/>
<polygon shape-rendering="crispEdges" fill="#e8c264" points="1404.6,387.1 1408.0,383.7 1597.4,383.7 1600.8,387.1 1600.8,392.3 1597.4,395.7 1408.0,395.7 1404.6,392.3"/>
<polygon shape-rendering="crispEdges" fill="#00dc00" points="1404.6,488.8 1408.0,485.4 1597.4,485.4 1600.8,488.8 1600.8,494.0 1597.4,497.4 1408.0,497.4 1404.6,494.0"/>
<polygon shape-rendering="crispEdges" fill="#00a0ff" points="1404.6,590.6 1408.0,587.2 1597.4,587.2 1600.8,590.6 1600.8,595.8 1597.4,599.2 1408.0,599.2 1404.6,595.8"/>
<polygon shape-rendering="crispEdges" fill="#9900cc" points="1404.6,692.8 1408.0,689.4 1597.4,689.4 1600.8,692.8 1600.8,698.0 1597.4,701.4 1408.0,701.4 1404.6,698.0"/>
<text class="lg" transform="translate(1615.70,213.80) scale(1.0182,1)">SC</text>
<text class="lg" transform="translate(1615.51,315.60) scale(0.9967,1)">geom4,</text>
<text class="lg" transform="translate(1882.27,315.60) scale(0.9771,1)">d=1.21</text>
<text class="lg" transform="translate(2134.88,315.60) scale(0.9711,1)">mm</text>
<text class="lg" transform="translate(1615.51,417.30) scale(0.9967,1)">geom4,</text>
<text class="lg" transform="translate(1882.27,417.30) scale(0.9771,1)">d=1.82</text>
<text class="lg" transform="translate(2134.88,417.30) scale(0.9711,1)">mm</text>
<text class="lg" transform="translate(1615.51,519.00) scale(0.9967,1)">geom4,</text>
<text class="lg" transform="translate(1882.27,519.00) scale(0.9771,1)">d=2.43</text>
<text class="lg" transform="translate(2134.88,519.00) scale(0.9711,1)">mm</text>
<text class="lg" transform="translate(1615.51,620.80) scale(0.9967,1)">geom4,</text>
<text class="lg" transform="translate(1882.27,620.80) scale(0.9771,1)">d=3.03</text>
<text class="lg" transform="translate(2134.88,620.80) scale(0.9711,1)">mm</text>
<text class="lg" transform="translate(1615.51,723.00) scale(0.9967,1)">geom4,</text>
<text class="lg" transform="translate(1882.27,723.00) scale(0.9771,1)">d=3.64</text>
<text class="lg" transform="translate(2134.88,723.00) scale(0.9711,1)">mm</text>
<text class="an" transform="translate(405.02,1329.90) scale(0.9875,1)">T</text>
<text class="an" transform="translate(472.36,1329.90) scale(1.1125,1)">=</text>
<text class="an" transform="translate(540.37,1329.90) scale(1.0183,1)">20</text>
<text class="an" transform="translate(644.56,1329.90) scale(1.0457,1)">K</text>
<text class="an" transform="translate(404.21,1468.90) scale(0.9824,1)">B</text>
<text class="sb" transform="translate(459.84,1490.90) scale(1.0397,1)">z</text>
<text class="an" transform="translate(503.74,1468.90) scale(0.9964,1)">calculated</text>
<text class="an" transform="translate(863.20,1468.90) scale(0.8864,1)">1</text>
<text class="an" transform="translate(923.07,1468.90) scale(0.9790,1)">mm</text>
<text class="an" transform="translate(404.48,1589.20) scale(0.9942,1)">above</text>
<text class="an" transform="translate(622.16,1589.20) scale(1.0045,1)">the</text>
<text class="an" transform="translate(744.27,1589.20) scale(0.9971,1)">top</text>
<text class="an" transform="translate(869.77,1589.20) scale(0.9982,1)">surface</text>
<text class="ti" transform="translate(1218.30,1899.70) scale(1.0383,1)">r</text>
<text class="ti" transform="translate(1270.84,1899.70) scale(1.0394,1)">(</text>
<text class="ti" transform="translate(1301.29,1899.70) scale(0.9861,1)">mm</text>
<text class="ti" transform="translate(1438.55,1899.70) scale(1.0510,1)">)</text>
<text class="ti" transform="translate(104.80,1082.05) rotate(-90) scale(0.9555,1)">B</text>
<text class="ts" transform="translate(130.20,1020.09) rotate(-90) scale(0.9901,1)">trapped,z</text>
<text class="ti" transform="translate(104.80,800.87) rotate(-90) scale(1.1039,1)">=</text>
<text class="ti" transform="translate(104.80,747.80) rotate(-90) scale(0.9740,1)">B</text>
<text class="ts" transform="translate(130.20,686.98) rotate(-90) scale(1.0081,1)">z</text>
<text class="ti" transform="translate(104.80,636.62) rotate(-90) scale(0.9807,1)">(T)</text>
</svg></body></html>
